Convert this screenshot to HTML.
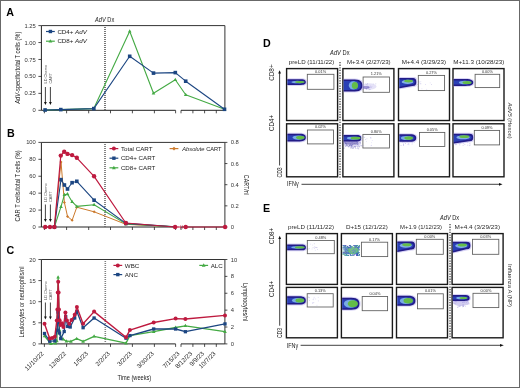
<!DOCTYPE html>
<html><head><meta charset="utf-8"><style>
html,body{margin:0;padding:0;background:#fff;}
body{width:520px;height:388px;overflow:hidden;}
svg{display:block;font-family:"Liberation Sans", sans-serif;opacity:0.999;}
</style></head><body>
<svg width="520" height="388" viewBox="0 0 520 388">
<defs><filter id="soft" x="-20%" y="-40%" width="140%" height="180%"><feGaussianBlur stdDeviation="0.35"/></filter></defs>
<rect x="0" y="0" width="520" height="388" fill="#fff"/>
<text x="6.3" y="15.8" font-size="10.7" text-anchor="start" fill="#000" font-weight="bold" >A</text>
<line x1="41.4" y1="25.6" x2="41.4" y2="110.3" stroke="#222" stroke-width="1" />
<line x1="41.4" y1="25.6" x2="224.9" y2="25.6" stroke="#333" stroke-width="1" />
<line x1="224.9" y1="25.6" x2="224.9" y2="110.3" stroke="#333" stroke-width="1" />
<line x1="41.4" y1="110.3" x2="175.6" y2="110.3" stroke="#222" stroke-width="1" />
<line x1="181.0" y1="110.3" x2="224.9" y2="110.3" stroke="#222" stroke-width="1" />
<line x1="44.4" y1="110.3" x2="44.4" y2="113.3" stroke="#222" stroke-width="0.8" />
<line x1="66.6" y1="110.3" x2="66.6" y2="113.3" stroke="#222" stroke-width="0.8" />
<line x1="88.7" y1="110.3" x2="88.7" y2="113.3" stroke="#222" stroke-width="0.8" />
<line x1="110.5" y1="110.3" x2="110.5" y2="113.3" stroke="#222" stroke-width="0.8" />
<line x1="132.4" y1="110.3" x2="132.4" y2="113.3" stroke="#222" stroke-width="0.8" />
<line x1="154.4" y1="110.3" x2="154.4" y2="113.3" stroke="#222" stroke-width="0.8" />
<line x1="175.6" y1="110.3" x2="175.6" y2="113.3" stroke="#222" stroke-width="0.8" />
<line x1="181.0" y1="110.3" x2="181.0" y2="113.3" stroke="#222" stroke-width="0.8" />
<line x1="192.9" y1="110.3" x2="192.9" y2="113.3" stroke="#222" stroke-width="0.8" />
<line x1="204.6" y1="110.3" x2="204.6" y2="113.3" stroke="#222" stroke-width="0.8" />
<line x1="216.3" y1="110.3" x2="216.3" y2="113.3" stroke="#222" stroke-width="0.8" />
<line x1="38.4" y1="110.3" x2="41.4" y2="110.3" stroke="#222" stroke-width="0.8" />
<text x="35.8" y="112.35" font-size="5.8" text-anchor="end" fill="#333" font-weight="normal" >0</text>
<line x1="38.4" y1="93.36" x2="41.4" y2="93.36" stroke="#222" stroke-width="0.8" />
<text x="35.8" y="95.41" font-size="5.8" text-anchor="end" fill="#333" font-weight="normal" >0.25</text>
<line x1="38.4" y1="76.42" x2="41.4" y2="76.42" stroke="#222" stroke-width="0.8" />
<text x="35.8" y="78.47" font-size="5.8" text-anchor="end" fill="#333" font-weight="normal" >0.50</text>
<line x1="38.4" y1="59.480000000000004" x2="41.4" y2="59.480000000000004" stroke="#222" stroke-width="0.8" />
<text x="35.8" y="61.53" font-size="5.8" text-anchor="end" fill="#333" font-weight="normal" >0.75</text>
<line x1="38.4" y1="42.540000000000006" x2="41.4" y2="42.540000000000006" stroke="#222" stroke-width="0.8" />
<text x="35.8" y="44.59" font-size="5.8" text-anchor="end" fill="#333" font-weight="normal" >1.00</text>
<line x1="38.4" y1="25.60000000000001" x2="41.4" y2="25.60000000000001" stroke="#222" stroke-width="0.8" />
<text x="35.8" y="27.65000000000001" font-size="5.8" text-anchor="end" fill="#333" font-weight="normal" >1.25</text>
<text x="19.8" y="67.7" font-size="7.7" text-anchor="middle" fill="#1a1a1a" font-weight="normal" transform="rotate(-90 19.8 67.7)" textLength="72" lengthAdjust="spacingAndGlyphs" ><tspan font-style="italic">AdV</tspan>-specific/total T cells (%)</text>
<path d="M104.2,27.00h1.6v1.0h-1.6zM104.2,29.00h1.6v1.0h-1.6zM104.2,31.00h1.6v1.0h-1.6zM104.2,33.00h1.6v1.0h-1.6zM104.2,35.00h1.6v1.0h-1.6zM104.2,37.00h1.6v1.0h-1.6zM104.2,39.00h1.6v1.0h-1.6zM104.2,41.00h1.6v1.0h-1.6zM104.2,43.00h1.6v1.0h-1.6zM104.2,45.00h1.6v1.0h-1.6zM104.2,47.00h1.6v1.0h-1.6zM104.2,49.00h1.6v1.0h-1.6zM104.2,51.00h1.6v1.0h-1.6zM104.2,53.00h1.6v1.0h-1.6zM104.2,55.00h1.6v1.0h-1.6zM104.2,57.00h1.6v1.0h-1.6zM104.2,59.00h1.6v1.0h-1.6zM104.2,61.00h1.6v1.0h-1.6zM104.2,63.00h1.6v1.0h-1.6zM104.2,65.00h1.6v1.0h-1.6zM104.2,67.00h1.6v1.0h-1.6zM104.2,69.00h1.6v1.0h-1.6zM104.2,71.00h1.6v1.0h-1.6zM104.2,73.00h1.6v1.0h-1.6zM104.2,75.00h1.6v1.0h-1.6zM104.2,77.00h1.6v1.0h-1.6zM104.2,79.00h1.6v1.0h-1.6zM104.2,81.00h1.6v1.0h-1.6zM104.2,83.00h1.6v1.0h-1.6zM104.2,85.00h1.6v1.0h-1.6zM104.2,87.00h1.6v1.0h-1.6zM104.2,89.00h1.6v1.0h-1.6zM104.2,91.00h1.6v1.0h-1.6zM104.2,93.00h1.6v1.0h-1.6zM104.2,95.00h1.6v1.0h-1.6zM104.2,97.00h1.6v1.0h-1.6zM104.2,99.00h1.6v1.0h-1.6zM104.2,101.00h1.6v1.0h-1.6zM104.2,103.00h1.6v1.0h-1.6zM104.2,105.00h1.6v1.0h-1.6zM104.2,107.00h1.6v1.0h-1.6zM104.2,109.00h1.6v1.0h-1.6z" fill="#555"/>
<text x="104.7" y="22" font-size="6.3" text-anchor="middle" fill="#222" font-weight="normal" textLength="19.2" lengthAdjust="spacingAndGlyphs" ><tspan font-style="italic">AdV</tspan> Dx</text>
<line x1="45.4" y1="87" x2="45.4" y2="102.5" stroke="#111" stroke-width="0.8" />
<polygon points="44.0,102 46.8,102 45.4,105" fill="#111"/>
<line x1="50.4" y1="87" x2="50.4" y2="102.5" stroke="#111" stroke-width="0.8" />
<polygon points="49.0,102 51.8,102 50.4,105" fill="#111"/>
<text x="47.0" y="83.5" font-size="3.9" text-anchor="start" fill="#555" font-weight="normal" transform="rotate(-90 47.0 83.5)" >LD Chemo</text>
<text x="52.0" y="83.5" font-size="3.9" text-anchor="start" fill="#555" font-weight="normal" transform="rotate(-90 52.0 83.5)" >CART</text>
<line x1="46.0" y1="31.5" x2="54.8" y2="31.5" stroke="#1c4682" stroke-width="1.2" />
<rect x="48.699999999999996" y="29.8" width="3.4" height="3.4" fill="#1c4682"/>
<text x="57.4" y="33.7" font-size="6.2" text-anchor="start" fill="#222" font-weight="normal" >CD4+ <tspan font-style="italic">AdV</tspan></text>
<line x1="46.0" y1="41.2" x2="54.8" y2="41.2" stroke="#44aa44" stroke-width="1.2" />
<polygon points="50.4,39.148 48.5,42.568000000000005 52.3,42.568000000000005" fill="#44aa44"/>
<text x="57.4" y="43.400000000000006" font-size="6.2" text-anchor="start" fill="#222" font-weight="normal" >CD8+ <tspan font-style="italic">AdV</tspan></text>
<polyline points="45.1,110 60.8,109.6 93.8,108.6 129.7,31.3 153.5,93.3 175.3,79.8 185.7,94.8 224.5,109.3" fill="none" stroke="#44aa44" stroke-width="1.1" stroke-linejoin="round"/>
<polygon points="45.1,108.056 43.300000000000004,111.296 46.9,111.296" fill="#44aa44"/>
<polygon points="60.8,107.65599999999999 59.0,110.896 62.599999999999994,110.896" fill="#44aa44"/>
<polygon points="93.8,106.65599999999999 92.0,109.896 95.6,109.896" fill="#44aa44"/>
<polygon points="129.7,29.356 127.89999999999999,32.596000000000004 131.5,32.596000000000004" fill="#44aa44"/>
<polygon points="153.5,91.356 151.7,94.596 155.3,94.596" fill="#44aa44"/>
<polygon points="175.3,77.856 173.5,81.096 177.10000000000002,81.096" fill="#44aa44"/>
<polygon points="185.7,92.856 183.89999999999998,96.096 187.5,96.096" fill="#44aa44"/>
<polygon points="224.5,107.356 222.7,110.596 226.3,110.596" fill="#44aa44"/>
<polyline points="45.1,110 60.8,109.6 93.8,108.6 129.7,56.3 153.5,73.1 175.3,72.6 185.7,81.2 224.5,109.3" fill="none" stroke="#1c4682" stroke-width="1.1" stroke-linejoin="round"/>
<rect x="43.300000000000004" y="108.2" width="3.6" height="3.6" fill="#1c4682"/>
<rect x="59.0" y="107.8" width="3.6" height="3.6" fill="#1c4682"/>
<rect x="92.0" y="106.8" width="3.6" height="3.6" fill="#1c4682"/>
<rect x="127.89999999999999" y="54.5" width="3.6" height="3.6" fill="#1c4682"/>
<rect x="151.7" y="71.3" width="3.6" height="3.6" fill="#1c4682"/>
<rect x="173.5" y="70.8" width="3.6" height="3.6" fill="#1c4682"/>
<rect x="183.89999999999998" y="79.4" width="3.6" height="3.6" fill="#1c4682"/>
<rect x="222.7" y="107.5" width="3.6" height="3.6" fill="#1c4682"/>
<text x="6.9" y="137.3" font-size="10.7" text-anchor="start" fill="#000" font-weight="bold" >B</text>
<line x1="41.4" y1="142.4" x2="41.4" y2="227.0" stroke="#222" stroke-width="1" />
<line x1="41.4" y1="142.4" x2="224.9" y2="142.4" stroke="#333" stroke-width="1" />
<line x1="224.9" y1="142.4" x2="224.9" y2="227.0" stroke="#333" stroke-width="1" />
<line x1="41.4" y1="227.0" x2="175.6" y2="227.0" stroke="#222" stroke-width="1" />
<line x1="181.0" y1="227.0" x2="224.9" y2="227.0" stroke="#222" stroke-width="1" />
<line x1="44.4" y1="227.0" x2="44.4" y2="230.0" stroke="#222" stroke-width="0.8" />
<line x1="66.6" y1="227.0" x2="66.6" y2="230.0" stroke="#222" stroke-width="0.8" />
<line x1="88.7" y1="227.0" x2="88.7" y2="230.0" stroke="#222" stroke-width="0.8" />
<line x1="110.5" y1="227.0" x2="110.5" y2="230.0" stroke="#222" stroke-width="0.8" />
<line x1="132.4" y1="227.0" x2="132.4" y2="230.0" stroke="#222" stroke-width="0.8" />
<line x1="154.4" y1="227.0" x2="154.4" y2="230.0" stroke="#222" stroke-width="0.8" />
<line x1="175.6" y1="227.0" x2="175.6" y2="230.0" stroke="#222" stroke-width="0.8" />
<line x1="181.0" y1="227.0" x2="181.0" y2="230.0" stroke="#222" stroke-width="0.8" />
<line x1="192.9" y1="227.0" x2="192.9" y2="230.0" stroke="#222" stroke-width="0.8" />
<line x1="204.6" y1="227.0" x2="204.6" y2="230.0" stroke="#222" stroke-width="0.8" />
<line x1="216.3" y1="227.0" x2="216.3" y2="230.0" stroke="#222" stroke-width="0.8" />
<line x1="38.4" y1="227.0" x2="41.4" y2="227.0" stroke="#222" stroke-width="0.8" />
<text x="35.8" y="229.05" font-size="5.8" text-anchor="end" fill="#333" font-weight="normal" >0</text>
<line x1="38.4" y1="210.08" x2="41.4" y2="210.08" stroke="#222" stroke-width="0.8" />
<text x="35.8" y="212.13000000000002" font-size="5.8" text-anchor="end" fill="#333" font-weight="normal" >20</text>
<line x1="38.4" y1="193.16" x2="41.4" y2="193.16" stroke="#222" stroke-width="0.8" />
<text x="35.8" y="195.21" font-size="5.8" text-anchor="end" fill="#333" font-weight="normal" >40</text>
<line x1="38.4" y1="176.24" x2="41.4" y2="176.24" stroke="#222" stroke-width="0.8" />
<text x="35.8" y="178.29000000000002" font-size="5.8" text-anchor="end" fill="#333" font-weight="normal" >60</text>
<line x1="38.4" y1="159.32" x2="41.4" y2="159.32" stroke="#222" stroke-width="0.8" />
<text x="35.8" y="161.37" font-size="5.8" text-anchor="end" fill="#333" font-weight="normal" >80</text>
<line x1="38.4" y1="142.4" x2="41.4" y2="142.4" stroke="#222" stroke-width="0.8" />
<text x="35.8" y="144.45000000000002" font-size="5.8" text-anchor="end" fill="#333" font-weight="normal" >100</text>
<line x1="224.9" y1="227.0" x2="227.4" y2="227.0" stroke="#222" stroke-width="0.8" />
<text x="230.70000000000002" y="229.05" font-size="5.8" text-anchor="start" fill="#333" font-weight="normal" >0</text>
<line x1="224.9" y1="205.85" x2="227.4" y2="205.85" stroke="#222" stroke-width="0.8" />
<text x="230.70000000000002" y="207.9" font-size="5.8" text-anchor="start" fill="#333" font-weight="normal" >0.2</text>
<line x1="224.9" y1="184.7" x2="227.4" y2="184.7" stroke="#222" stroke-width="0.8" />
<text x="230.70000000000002" y="186.75" font-size="5.8" text-anchor="start" fill="#333" font-weight="normal" >0.4</text>
<line x1="224.9" y1="163.55" x2="227.4" y2="163.55" stroke="#222" stroke-width="0.8" />
<text x="230.70000000000002" y="165.60000000000002" font-size="5.8" text-anchor="start" fill="#333" font-weight="normal" >0.6</text>
<line x1="224.9" y1="142.4" x2="227.4" y2="142.4" stroke="#222" stroke-width="0.8" />
<text x="230.70000000000002" y="144.45000000000002" font-size="5.8" text-anchor="start" fill="#333" font-weight="normal" >0.8</text>
<text x="20.3" y="185.9" font-size="7.6" text-anchor="middle" fill="#1a1a1a" font-weight="normal" transform="rotate(-90 20.3 185.9)" textLength="71" lengthAdjust="spacingAndGlyphs" >CAR T cells/total T cells (%)</text>
<text x="243.6" y="184.8" font-size="7.2" text-anchor="middle" fill="#1a1a1a" font-weight="normal" transform="rotate(90 243.6 184.8)" textLength="20" lengthAdjust="spacingAndGlyphs" >CART/nl</text>
<path d="M104.2,144.00h1.6v1.0h-1.6zM104.2,146.00h1.6v1.0h-1.6zM104.2,148.00h1.6v1.0h-1.6zM104.2,150.00h1.6v1.0h-1.6zM104.2,152.00h1.6v1.0h-1.6zM104.2,154.00h1.6v1.0h-1.6zM104.2,156.00h1.6v1.0h-1.6zM104.2,158.00h1.6v1.0h-1.6zM104.2,160.00h1.6v1.0h-1.6zM104.2,162.00h1.6v1.0h-1.6zM104.2,164.00h1.6v1.0h-1.6zM104.2,166.00h1.6v1.0h-1.6zM104.2,168.00h1.6v1.0h-1.6zM104.2,170.00h1.6v1.0h-1.6zM104.2,172.00h1.6v1.0h-1.6zM104.2,174.00h1.6v1.0h-1.6zM104.2,176.00h1.6v1.0h-1.6zM104.2,178.00h1.6v1.0h-1.6zM104.2,180.00h1.6v1.0h-1.6zM104.2,182.00h1.6v1.0h-1.6zM104.2,184.00h1.6v1.0h-1.6zM104.2,186.00h1.6v1.0h-1.6zM104.2,188.00h1.6v1.0h-1.6zM104.2,190.00h1.6v1.0h-1.6zM104.2,192.00h1.6v1.0h-1.6zM104.2,194.00h1.6v1.0h-1.6zM104.2,196.00h1.6v1.0h-1.6zM104.2,198.00h1.6v1.0h-1.6zM104.2,200.00h1.6v1.0h-1.6zM104.2,202.00h1.6v1.0h-1.6zM104.2,204.00h1.6v1.0h-1.6zM104.2,206.00h1.6v1.0h-1.6zM104.2,208.00h1.6v1.0h-1.6zM104.2,210.00h1.6v1.0h-1.6zM104.2,212.00h1.6v1.0h-1.6zM104.2,214.00h1.6v1.0h-1.6zM104.2,216.00h1.6v1.0h-1.6zM104.2,218.00h1.6v1.0h-1.6zM104.2,220.00h1.6v1.0h-1.6zM104.2,222.00h1.6v1.0h-1.6zM104.2,224.00h1.6v1.0h-1.6zM104.2,226.00h1.6v1.0h-1.6z" fill="#666"/>
<line x1="45.4" y1="204.5" x2="45.4" y2="219.5" stroke="#111" stroke-width="0.8" />
<polygon points="44.0,219 46.8,219 45.4,222" fill="#111"/>
<line x1="50.4" y1="204.5" x2="50.4" y2="219.5" stroke="#111" stroke-width="0.8" />
<polygon points="49.0,219 51.8,219 50.4,222" fill="#111"/>
<text x="47.0" y="202" font-size="3.9" text-anchor="start" fill="#555" font-weight="normal" transform="rotate(-90 47.0 202)" >LD Chemo</text>
<text x="52.0" y="202" font-size="3.9" text-anchor="start" fill="#555" font-weight="normal" transform="rotate(-90 52.0 202)" >CART</text>
<line x1="109.5" y1="148.6" x2="118.30000000000001" y2="148.6" stroke="#be1a3f" stroke-width="1.2" />
<circle cx="113.9" cy="148.6" r="2.0" fill="#be1a3f"/>
<text x="120.9" y="150.79999999999998" font-size="6.2" text-anchor="start" fill="#222" font-weight="normal" >Total CART</text>
<line x1="109.5" y1="158.2" x2="118.30000000000001" y2="158.2" stroke="#1c4682" stroke-width="1.2" />
<rect x="112.2" y="156.5" width="3.4" height="3.4" fill="#1c4682"/>
<text x="120.9" y="160.39999999999998" font-size="6.2" text-anchor="start" fill="#222" font-weight="normal" >CD4+ CART</text>
<line x1="109.5" y1="167.8" x2="118.30000000000001" y2="167.8" stroke="#44aa44" stroke-width="1.2" />
<polygon points="113.9,165.74800000000002 112.0,169.168 115.80000000000001,169.168" fill="#44aa44"/>
<text x="120.9" y="170.0" font-size="6.2" text-anchor="start" fill="#222" font-weight="normal" >CD8+ CART</text>
<line x1="169.6" y1="148.6" x2="178.4" y2="148.6" stroke="#cc7a2c" stroke-width="1.2" />
<polygon points="174.0,146.7 175.9,148.6 174.0,150.5 172.1,148.6" fill="#cc7a2c"/>
<text x="182.3" y="150.79999999999998" font-size="6.2" text-anchor="start" fill="#222" font-weight="normal" textLength="39.3" lengthAdjust="spacingAndGlyphs" ><tspan font-style="italic">Absolute</tspan> CART</text>
<polyline points="54.4,227 61.0,162 64.4,202.5 67.5,216.4 72.1,220.3 76.8,207.2 94.1,211.8 125.9,224.3 175.1,226.8" fill="none" stroke="#cc7a2c" stroke-width="1.0" stroke-linejoin="round"/>
<polygon points="54.4,225.5 55.9,227 54.4,228.5 52.9,227" fill="#cc7a2c"/>
<polygon points="61.0,160.5 62.5,162 61.0,163.5 59.5,162" fill="#cc7a2c"/>
<polygon points="64.4,201.0 65.9,202.5 64.4,204.0 62.900000000000006,202.5" fill="#cc7a2c"/>
<polygon points="67.5,214.9 69.0,216.4 67.5,217.9 66.0,216.4" fill="#cc7a2c"/>
<polygon points="72.1,218.8 73.6,220.3 72.1,221.8 70.6,220.3" fill="#cc7a2c"/>
<polygon points="76.8,205.7 78.3,207.2 76.8,208.7 75.3,207.2" fill="#cc7a2c"/>
<polygon points="94.1,210.3 95.6,211.8 94.1,213.3 92.6,211.8" fill="#cc7a2c"/>
<polygon points="125.9,222.8 127.4,224.3 125.9,225.8 124.4,224.3" fill="#cc7a2c"/>
<polygon points="175.1,225.3 176.6,226.8 175.1,228.3 173.6,226.8" fill="#cc7a2c"/>
<polyline points="54.4,227 61.0,206.7 64.4,194.8 67.5,194.0 72.1,201.7 76.8,206.4 94.1,204.8 125.9,223.9" fill="none" stroke="#44aa44" stroke-width="1.1" stroke-linejoin="round"/>
<polygon points="54.4,225.056 52.6,228.296 56.199999999999996,228.296" fill="#44aa44"/>
<polygon points="61.0,204.756 59.2,207.99599999999998 62.8,207.99599999999998" fill="#44aa44"/>
<polygon points="64.4,192.85600000000002 62.60000000000001,196.096 66.2,196.096" fill="#44aa44"/>
<polygon points="67.5,192.056 65.7,195.296 69.3,195.296" fill="#44aa44"/>
<polygon points="72.1,199.756 70.3,202.99599999999998 73.89999999999999,202.99599999999998" fill="#44aa44"/>
<polygon points="76.8,204.45600000000002 75.0,207.696 78.6,207.696" fill="#44aa44"/>
<polygon points="94.1,202.85600000000002 92.3,206.096 95.89999999999999,206.096" fill="#44aa44"/>
<polygon points="125.9,221.95600000000002 124.10000000000001,225.196 127.7,225.196" fill="#44aa44"/>
<polyline points="125.9,223.9 175.1,226.8" fill="none" stroke="#44aa44" stroke-width="1.1" stroke-linejoin="round"/>
<polyline points="54.4,227 61.0,179.6 64.4,185.0 67.5,189.0 72.1,182.7 76.8,181.3 94.1,200.2 125.9,223.4" fill="none" stroke="#1c4682" stroke-width="1.1" stroke-linejoin="round"/>
<rect x="52.6" y="225.2" width="3.6" height="3.6" fill="#1c4682"/>
<rect x="59.2" y="177.79999999999998" width="3.6" height="3.6" fill="#1c4682"/>
<rect x="62.60000000000001" y="183.2" width="3.6" height="3.6" fill="#1c4682"/>
<rect x="65.7" y="187.2" width="3.6" height="3.6" fill="#1c4682"/>
<rect x="70.3" y="180.89999999999998" width="3.6" height="3.6" fill="#1c4682"/>
<rect x="75.0" y="179.5" width="3.6" height="3.6" fill="#1c4682"/>
<rect x="92.3" y="198.39999999999998" width="3.6" height="3.6" fill="#1c4682"/>
<rect x="124.10000000000001" y="221.6" width="3.6" height="3.6" fill="#1c4682"/>
<polyline points="125.9,223.4 175.1,226.8" fill="none" stroke="#1c4682" stroke-width="1.1" stroke-linejoin="round"/>
<polyline points="45.2,227 50.0,227 54.4,227 60.8,155.6 64.2,151.7 67.5,153.9 72.1,155.1 76.8,157.8 94.1,176.3 125.8,223.0 175.1,227" fill="none" stroke="#be1a3f" stroke-width="1.2" stroke-linejoin="round"/>
<circle cx="45.2" cy="227" r="2.2" fill="#be1a3f"/>
<circle cx="50.0" cy="227" r="2.2" fill="#be1a3f"/>
<circle cx="54.4" cy="227" r="2.2" fill="#be1a3f"/>
<circle cx="60.8" cy="155.6" r="2.2" fill="#be1a3f"/>
<circle cx="64.2" cy="151.7" r="2.2" fill="#be1a3f"/>
<circle cx="67.5" cy="153.9" r="2.2" fill="#be1a3f"/>
<circle cx="72.1" cy="155.1" r="2.2" fill="#be1a3f"/>
<circle cx="76.8" cy="157.8" r="2.2" fill="#be1a3f"/>
<circle cx="94.1" cy="176.3" r="2.2" fill="#be1a3f"/>
<circle cx="125.8" cy="223.0" r="2.2" fill="#be1a3f"/>
<circle cx="175.1" cy="227" r="2.2" fill="#be1a3f"/>
<polyline points="175.1,227 179.8,227" fill="none" stroke="#be1a3f" stroke-width="1.2" stroke-linejoin="round"/>
<polyline points="183.2,227 225.1,227" fill="none" stroke="#be1a3f" stroke-width="1.2" stroke-linejoin="round"/>
<line x1="180.6" y1="225.5" x2="180.6" y2="228.5" stroke="#be1a3f" stroke-width="0.8" />
<line x1="182.4" y1="225.5" x2="182.4" y2="228.5" stroke="#be1a3f" stroke-width="0.8" />
<circle cx="185.7" cy="227" r="2.2" fill="#be1a3f"/>
<circle cx="225.1" cy="227" r="2.2" fill="#be1a3f"/>
<text x="6.6" y="254.4" font-size="10.7" text-anchor="start" fill="#000" font-weight="bold" >C</text>
<line x1="41.4" y1="259.5" x2="41.4" y2="343.9" stroke="#222" stroke-width="1" />
<line x1="41.4" y1="259.5" x2="224.9" y2="259.5" stroke="#333" stroke-width="1" />
<line x1="224.9" y1="259.5" x2="224.9" y2="343.9" stroke="#333" stroke-width="1" />
<line x1="41.4" y1="343.9" x2="175.6" y2="343.9" stroke="#222" stroke-width="1" />
<line x1="181.0" y1="343.9" x2="224.9" y2="343.9" stroke="#222" stroke-width="1" />
<line x1="44.4" y1="343.9" x2="44.4" y2="346.9" stroke="#222" stroke-width="0.8" />
<line x1="66.6" y1="343.9" x2="66.6" y2="346.9" stroke="#222" stroke-width="0.8" />
<line x1="88.7" y1="343.9" x2="88.7" y2="346.9" stroke="#222" stroke-width="0.8" />
<line x1="110.5" y1="343.9" x2="110.5" y2="346.9" stroke="#222" stroke-width="0.8" />
<line x1="132.4" y1="343.9" x2="132.4" y2="346.9" stroke="#222" stroke-width="0.8" />
<line x1="154.4" y1="343.9" x2="154.4" y2="346.9" stroke="#222" stroke-width="0.8" />
<line x1="175.6" y1="343.9" x2="175.6" y2="346.9" stroke="#222" stroke-width="0.8" />
<line x1="181.0" y1="343.9" x2="181.0" y2="346.9" stroke="#222" stroke-width="0.8" />
<line x1="192.9" y1="343.9" x2="192.9" y2="346.9" stroke="#222" stroke-width="0.8" />
<line x1="204.6" y1="343.9" x2="204.6" y2="346.9" stroke="#222" stroke-width="0.8" />
<line x1="216.3" y1="343.9" x2="216.3" y2="346.9" stroke="#222" stroke-width="0.8" />
<line x1="38.4" y1="343.9" x2="41.4" y2="343.9" stroke="#222" stroke-width="0.8" />
<text x="35.8" y="345.95" font-size="5.8" text-anchor="end" fill="#333" font-weight="normal" >0</text>
<line x1="38.4" y1="322.79999999999995" x2="41.4" y2="322.79999999999995" stroke="#222" stroke-width="0.8" />
<text x="35.8" y="324.84999999999997" font-size="5.8" text-anchor="end" fill="#333" font-weight="normal" >5</text>
<line x1="38.4" y1="301.7" x2="41.4" y2="301.7" stroke="#222" stroke-width="0.8" />
<text x="35.8" y="303.75" font-size="5.8" text-anchor="end" fill="#333" font-weight="normal" >10</text>
<line x1="38.4" y1="280.6" x2="41.4" y2="280.6" stroke="#222" stroke-width="0.8" />
<text x="35.8" y="282.65000000000003" font-size="5.8" text-anchor="end" fill="#333" font-weight="normal" >15</text>
<line x1="38.4" y1="259.5" x2="41.4" y2="259.5" stroke="#222" stroke-width="0.8" />
<text x="35.8" y="261.55" font-size="5.8" text-anchor="end" fill="#333" font-weight="normal" >20</text>
<line x1="224.9" y1="343.9" x2="227.4" y2="343.9" stroke="#222" stroke-width="0.8" />
<text x="230.70000000000002" y="345.95" font-size="5.8" text-anchor="start" fill="#333" font-weight="normal" >0</text>
<line x1="224.9" y1="327.02" x2="227.4" y2="327.02" stroke="#222" stroke-width="0.8" />
<text x="230.70000000000002" y="329.07" font-size="5.8" text-anchor="start" fill="#333" font-weight="normal" >2</text>
<line x1="224.9" y1="310.14" x2="227.4" y2="310.14" stroke="#222" stroke-width="0.8" />
<text x="230.70000000000002" y="312.19" font-size="5.8" text-anchor="start" fill="#333" font-weight="normal" >4</text>
<line x1="224.9" y1="293.26" x2="227.4" y2="293.26" stroke="#222" stroke-width="0.8" />
<text x="230.70000000000002" y="295.31" font-size="5.8" text-anchor="start" fill="#333" font-weight="normal" >6</text>
<line x1="224.9" y1="276.38" x2="227.4" y2="276.38" stroke="#222" stroke-width="0.8" />
<text x="230.70000000000002" y="278.43" font-size="5.8" text-anchor="start" fill="#333" font-weight="normal" >8</text>
<line x1="224.9" y1="259.5" x2="227.4" y2="259.5" stroke="#222" stroke-width="0.8" />
<text x="230.70000000000002" y="261.55" font-size="5.8" text-anchor="start" fill="#333" font-weight="normal" >10</text>
<text x="24.3" y="302" font-size="7.6" text-anchor="middle" fill="#1a1a1a" font-weight="normal" transform="rotate(-90 24.3 302)" textLength="71" lengthAdjust="spacingAndGlyphs" >Leukocytes or neutrophils/nl</text>
<text x="242.8" y="302.0" font-size="7.2" text-anchor="middle" fill="#1a1a1a" font-weight="normal" transform="rotate(90 242.8 302.0)" textLength="38" lengthAdjust="spacingAndGlyphs" >Lymphocytes/nl</text>
<path d="M104.5,261.00h1.6v1.0h-1.6zM104.5,263.00h1.6v1.0h-1.6zM104.5,265.00h1.6v1.0h-1.6zM104.5,267.00h1.6v1.0h-1.6zM104.5,269.00h1.6v1.0h-1.6zM104.5,271.00h1.6v1.0h-1.6zM104.5,273.00h1.6v1.0h-1.6zM104.5,275.00h1.6v1.0h-1.6zM104.5,277.00h1.6v1.0h-1.6zM104.5,279.00h1.6v1.0h-1.6zM104.5,281.00h1.6v1.0h-1.6zM104.5,283.00h1.6v1.0h-1.6zM104.5,285.00h1.6v1.0h-1.6zM104.5,287.00h1.6v1.0h-1.6zM104.5,289.00h1.6v1.0h-1.6zM104.5,291.00h1.6v1.0h-1.6zM104.5,293.00h1.6v1.0h-1.6zM104.5,295.00h1.6v1.0h-1.6zM104.5,297.00h1.6v1.0h-1.6zM104.5,299.00h1.6v1.0h-1.6zM104.5,301.00h1.6v1.0h-1.6zM104.5,303.00h1.6v1.0h-1.6zM104.5,305.00h1.6v1.0h-1.6zM104.5,307.00h1.6v1.0h-1.6zM104.5,309.00h1.6v1.0h-1.6zM104.5,311.00h1.6v1.0h-1.6zM104.5,313.00h1.6v1.0h-1.6zM104.5,315.00h1.6v1.0h-1.6zM104.5,317.00h1.6v1.0h-1.6zM104.5,319.00h1.6v1.0h-1.6zM104.5,321.00h1.6v1.0h-1.6zM104.5,323.00h1.6v1.0h-1.6zM104.5,325.00h1.6v1.0h-1.6zM104.5,327.00h1.6v1.0h-1.6zM104.5,329.00h1.6v1.0h-1.6zM104.5,331.00h1.6v1.0h-1.6zM104.5,333.00h1.6v1.0h-1.6zM104.5,335.00h1.6v1.0h-1.6zM104.5,337.00h1.6v1.0h-1.6zM104.5,339.00h1.6v1.0h-1.6zM104.5,341.00h1.6v1.0h-1.6zM104.5,343.00h1.6v1.0h-1.6z" fill="#808080"/>
<line x1="45.4" y1="302.5" x2="45.4" y2="317.0" stroke="#111" stroke-width="0.8" />
<polygon points="44.0,316.5 46.8,316.5 45.4,319.5" fill="#111"/>
<line x1="50.4" y1="302.5" x2="50.4" y2="317.0" stroke="#111" stroke-width="0.8" />
<polygon points="49.0,316.5 51.8,316.5 50.4,319.5" fill="#111"/>
<text x="47.0" y="300" font-size="3.9" text-anchor="start" fill="#555" font-weight="normal" transform="rotate(-90 47.0 300)" >LD Chemo</text>
<text x="52.0" y="300" font-size="3.9" text-anchor="start" fill="#555" font-weight="normal" transform="rotate(-90 52.0 300)" >CART</text>
<line x1="113.39999999999999" y1="265.4" x2="122.2" y2="265.4" stroke="#be1a3f" stroke-width="1.2" />
<circle cx="117.8" cy="265.4" r="2.0" fill="#be1a3f"/>
<text x="124.8" y="267.59999999999997" font-size="6.2" text-anchor="start" fill="#222" font-weight="normal" >WBC</text>
<line x1="113.39999999999999" y1="274.6" x2="122.2" y2="274.6" stroke="#1c4682" stroke-width="1.2" />
<rect x="116.1" y="272.90000000000003" width="3.4" height="3.4" fill="#1c4682"/>
<text x="124.8" y="276.8" font-size="6.2" text-anchor="start" fill="#222" font-weight="normal" >ANC</text>
<line x1="199.29999999999998" y1="265.4" x2="208.1" y2="265.4" stroke="#44aa44" stroke-width="1.2" />
<polygon points="203.7,263.34799999999996 201.79999999999998,266.768 205.6,266.768" fill="#44aa44"/>
<text x="210.7" y="267.59999999999997" font-size="6.2" text-anchor="start" fill="#222" font-weight="normal" >ALC</text>
<text x="44.199999999999996" y="354.0" font-size="6.3" text-anchor="end" fill="#222" font-weight="normal" transform="rotate(-45 44.199999999999996 354.0)" >11/10/22</text>
<text x="66.39999999999999" y="354.0" font-size="6.3" text-anchor="end" fill="#222" font-weight="normal" transform="rotate(-45 66.39999999999999 354.0)" >12/8/22</text>
<text x="88.5" y="354.0" font-size="6.3" text-anchor="end" fill="#222" font-weight="normal" transform="rotate(-45 88.5 354.0)" >1/5/23</text>
<text x="110.3" y="354.0" font-size="6.3" text-anchor="end" fill="#222" font-weight="normal" transform="rotate(-45 110.3 354.0)" >2/2/23</text>
<text x="132.20000000000002" y="354.0" font-size="6.3" text-anchor="end" fill="#222" font-weight="normal" transform="rotate(-45 132.20000000000002 354.0)" >3/2/23</text>
<text x="154.20000000000002" y="354.0" font-size="6.3" text-anchor="end" fill="#222" font-weight="normal" transform="rotate(-45 154.20000000000002 354.0)" >3/30/23</text>
<text x="180.0" y="354.0" font-size="6.3" text-anchor="end" fill="#222" font-weight="normal" transform="rotate(-45 180.0 354.0)" >7/15/23</text>
<text x="192.70000000000002" y="354.0" font-size="6.3" text-anchor="end" fill="#222" font-weight="normal" transform="rotate(-45 192.70000000000002 354.0)" >8/12/23</text>
<text x="204.4" y="354.0" font-size="6.3" text-anchor="end" fill="#222" font-weight="normal" transform="rotate(-45 204.4 354.0)" >9/9/23</text>
<text x="216.10000000000002" y="354.0" font-size="6.3" text-anchor="end" fill="#222" font-weight="normal" transform="rotate(-45 216.10000000000002 354.0)" >10/7/23</text>
<text x="134.4" y="379.6" font-size="8.0" text-anchor="middle" fill="#1a1a1a" font-weight="normal" textLength="33.7" lengthAdjust="spacingAndGlyphs" >Time (weeks)</text>
<polyline points="44.5,336.0 50.9,343.8 55.4,343.1 56.9,341.0 58.1,277.2 59.4,330.0 61.0,337.5 63.2,339.3 66.4,341.2 70.9,341.4 76.7,338.6 83.1,341.4 94.1,336.3 126.0,343.1 129.9,335.6 153.7,331.7 175.6,327.5 185.4,325.8 225.0,331.7" fill="none" stroke="#44aa44" stroke-width="1.3" stroke-linejoin="round"/>
<polygon points="44.5,334.056 42.7,337.296 46.3,337.296" fill="#44aa44"/>
<polygon points="50.9,341.856 49.1,345.096 52.699999999999996,345.096" fill="#44aa44"/>
<polygon points="55.4,341.156 53.6,344.396 57.199999999999996,344.396" fill="#44aa44"/>
<polygon points="56.9,339.056 55.1,342.296 58.699999999999996,342.296" fill="#44aa44"/>
<polygon points="58.1,275.256 56.300000000000004,278.496 59.9,278.496" fill="#44aa44"/>
<polygon points="59.4,328.056 57.6,331.296 61.199999999999996,331.296" fill="#44aa44"/>
<polygon points="61.0,335.556 59.2,338.796 62.8,338.796" fill="#44aa44"/>
<polygon points="63.2,337.356 61.400000000000006,340.596 65.0,340.596" fill="#44aa44"/>
<polygon points="66.4,339.256 64.60000000000001,342.496 68.2,342.496" fill="#44aa44"/>
<polygon points="70.9,339.45599999999996 69.10000000000001,342.69599999999997 72.7,342.69599999999997" fill="#44aa44"/>
<polygon points="76.7,336.656 74.9,339.896 78.5,339.896" fill="#44aa44"/>
<polygon points="83.1,339.45599999999996 81.3,342.69599999999997 84.89999999999999,342.69599999999997" fill="#44aa44"/>
<polygon points="94.1,334.356 92.3,337.596 95.89999999999999,337.596" fill="#44aa44"/>
<polygon points="126.0,341.156 124.2,344.396 127.8,344.396" fill="#44aa44"/>
<polygon points="129.9,333.656 128.1,336.896 131.70000000000002,336.896" fill="#44aa44"/>
<polygon points="153.7,329.756 151.89999999999998,332.996 155.5,332.996" fill="#44aa44"/>
<polygon points="175.6,325.556 173.79999999999998,328.796 177.4,328.796" fill="#44aa44"/>
<polygon points="185.4,323.856 183.6,327.096 187.20000000000002,327.096" fill="#44aa44"/>
<polygon points="225.0,329.756 223.2,332.996 226.8,332.996" fill="#44aa44"/>
<polyline points="44.5,333.5 49.7,341.2 54.8,340.9 57.2,330.2 58.0,312.0 58.7,322.0 59.5,333.0 60.8,338.6 64.2,331.5 65.7,316.7 67.7,326.4 70.2,327.0 74.7,318.0 76.9,311.6 83.1,327.7 94.1,318.0 126.0,338.2 129.9,335.6 153.7,329.0 175.6,329.0 185.4,331.7 225.0,323.9" fill="none" stroke="#1c4682" stroke-width="1.3" stroke-linejoin="round"/>
<rect x="42.85" y="331.85" width="3.3" height="3.3" fill="#1c4682"/>
<rect x="48.050000000000004" y="339.55" width="3.3" height="3.3" fill="#1c4682"/>
<rect x="53.15" y="339.25" width="3.3" height="3.3" fill="#1c4682"/>
<rect x="55.550000000000004" y="328.55" width="3.3" height="3.3" fill="#1c4682"/>
<rect x="56.35" y="310.35" width="3.3" height="3.3" fill="#1c4682"/>
<rect x="57.050000000000004" y="320.35" width="3.3" height="3.3" fill="#1c4682"/>
<rect x="57.85" y="331.35" width="3.3" height="3.3" fill="#1c4682"/>
<rect x="59.15" y="336.95000000000005" width="3.3" height="3.3" fill="#1c4682"/>
<rect x="62.550000000000004" y="329.85" width="3.3" height="3.3" fill="#1c4682"/>
<rect x="64.05" y="315.05" width="3.3" height="3.3" fill="#1c4682"/>
<rect x="66.05" y="324.75" width="3.3" height="3.3" fill="#1c4682"/>
<rect x="68.55" y="325.35" width="3.3" height="3.3" fill="#1c4682"/>
<rect x="73.05" y="316.35" width="3.3" height="3.3" fill="#1c4682"/>
<rect x="75.25" y="309.95000000000005" width="3.3" height="3.3" fill="#1c4682"/>
<rect x="81.44999999999999" y="326.05" width="3.3" height="3.3" fill="#1c4682"/>
<rect x="92.44999999999999" y="316.35" width="3.3" height="3.3" fill="#1c4682"/>
<rect x="124.35" y="336.55" width="3.3" height="3.3" fill="#1c4682"/>
<rect x="128.25" y="333.95000000000005" width="3.3" height="3.3" fill="#1c4682"/>
<rect x="152.04999999999998" y="327.35" width="3.3" height="3.3" fill="#1c4682"/>
<rect x="173.95" y="327.35" width="3.3" height="3.3" fill="#1c4682"/>
<rect x="183.75" y="330.05" width="3.3" height="3.3" fill="#1c4682"/>
<rect x="223.35" y="322.25" width="3.3" height="3.3" fill="#1c4682"/>
<polyline points="44.5,323.8 49.7,338.6 52.2,338.0 54.8,336.7 56.8,320.6 57.4,309.5 57.8,292.4 58.2,281.8 58.6,292.4 59.0,309.6 59.6,320.3 60.6,325.1 61.9,323.2 63.4,327.0 65.4,312.5 67.0,320.6 69.3,323.8 71.5,320.0 74.7,314.8 76.9,307.1 83.1,323.8 94.1,311.6 126.0,337.3 129.9,330.1 153.7,322.5 175.6,318.6 185.4,319.0 225.0,315.4" fill="none" stroke="#be1a3f" stroke-width="1.4" stroke-linejoin="round"/>
<circle cx="44.5" cy="323.8" r="2.0" fill="#be1a3f"/>
<circle cx="49.7" cy="338.6" r="2.0" fill="#be1a3f"/>
<circle cx="52.2" cy="338.0" r="2.0" fill="#be1a3f"/>
<circle cx="54.8" cy="336.7" r="2.0" fill="#be1a3f"/>
<circle cx="56.8" cy="320.6" r="2.0" fill="#be1a3f"/>
<circle cx="57.4" cy="309.5" r="2.0" fill="#be1a3f"/>
<circle cx="57.8" cy="292.4" r="2.0" fill="#be1a3f"/>
<circle cx="58.2" cy="281.8" r="2.0" fill="#be1a3f"/>
<circle cx="58.6" cy="292.4" r="2.0" fill="#be1a3f"/>
<circle cx="59.0" cy="309.6" r="2.0" fill="#be1a3f"/>
<circle cx="59.6" cy="320.3" r="2.0" fill="#be1a3f"/>
<circle cx="60.6" cy="325.1" r="2.0" fill="#be1a3f"/>
<circle cx="61.9" cy="323.2" r="2.0" fill="#be1a3f"/>
<circle cx="63.4" cy="327.0" r="2.0" fill="#be1a3f"/>
<circle cx="65.4" cy="312.5" r="2.0" fill="#be1a3f"/>
<circle cx="67.0" cy="320.6" r="2.0" fill="#be1a3f"/>
<circle cx="69.3" cy="323.8" r="2.0" fill="#be1a3f"/>
<circle cx="71.5" cy="320.0" r="2.0" fill="#be1a3f"/>
<circle cx="74.7" cy="314.8" r="2.0" fill="#be1a3f"/>
<circle cx="76.9" cy="307.1" r="2.0" fill="#be1a3f"/>
<circle cx="83.1" cy="323.8" r="2.0" fill="#be1a3f"/>
<circle cx="94.1" cy="311.6" r="2.0" fill="#be1a3f"/>
<circle cx="126.0" cy="337.3" r="2.0" fill="#be1a3f"/>
<circle cx="129.9" cy="330.1" r="2.0" fill="#be1a3f"/>
<circle cx="153.7" cy="322.5" r="2.0" fill="#be1a3f"/>
<circle cx="175.6" cy="318.6" r="2.0" fill="#be1a3f"/>
<circle cx="185.4" cy="319.0" r="2.0" fill="#be1a3f"/>
<circle cx="225.0" cy="315.4" r="2.0" fill="#be1a3f"/>
<text x="263.0" y="47.0" font-size="10.7" text-anchor="start" fill="#000" font-weight="bold" >D</text>
<text x="311.6" y="63.7" font-size="5.9" text-anchor="middle" fill="#2a2a2a" font-weight="normal" textLength="45.5" lengthAdjust="spacingAndGlyphs" >preLD (11/11/22)</text>
<text x="368.8" y="63.7" font-size="5.9" text-anchor="middle" fill="#2a2a2a" font-weight="normal" textLength="43.7" lengthAdjust="spacingAndGlyphs" >M+3.4 (2/27/23)</text>
<text x="423.9" y="63.7" font-size="5.9" text-anchor="middle" fill="#2a2a2a" font-weight="normal" textLength="44.5" lengthAdjust="spacingAndGlyphs" >M+4.4 (3/29/23)</text>
<text x="478.8" y="63.7" font-size="5.9" text-anchor="middle" fill="#2a2a2a" font-weight="normal" textLength="51.2" lengthAdjust="spacingAndGlyphs" >M+11.3 (10/28/23)</text>
<rect x="286.6" y="68.6" width="51.0" height="51.9" fill="none" stroke="#1a1a1a" stroke-width="1.4"/>
<rect x="307.3" y="74.3" width="26.6" height="15" fill="none" stroke="#5c5c5c" stroke-width="0.85"/>
<text x="320.6" y="72.6" font-size="3.9" text-anchor="middle" fill="#333" font-weight="normal" >0.01%</text>
<rect x="342.9" y="68.6" width="51.0" height="51.9" fill="none" stroke="#1a1a1a" stroke-width="1.4"/>
<rect x="363.1" y="77.0" width="26.4" height="15.3" fill="none" stroke="#5c5c5c" stroke-width="0.85"/>
<text x="376.3" y="75.3" font-size="3.9" text-anchor="middle" fill="#333" font-weight="normal" >1.21%</text>
<rect x="398.5" y="68.6" width="51.0" height="51.9" fill="none" stroke="#1a1a1a" stroke-width="1.4"/>
<rect x="418.3" y="75.4" width="26.3" height="15.2" fill="none" stroke="#5c5c5c" stroke-width="0.85"/>
<text x="431.45" y="73.7" font-size="3.9" text-anchor="middle" fill="#333" font-weight="normal" >0.27%</text>
<rect x="453.0" y="68.6" width="51.0" height="51.9" fill="none" stroke="#1a1a1a" stroke-width="1.4"/>
<rect x="475.1" y="74.3" width="24.6" height="13.3" fill="none" stroke="#5c5c5c" stroke-width="0.85"/>
<text x="487.40000000000003" y="72.6" font-size="3.9" text-anchor="middle" fill="#333" font-weight="normal" >0.00%</text>
<rect x="286.6" y="123.8" width="51.0" height="53.0" fill="none" stroke="#1a1a1a" stroke-width="1.4"/>
<rect x="307.4" y="130" width="26.1" height="13.9" fill="none" stroke="#5c5c5c" stroke-width="0.85"/>
<text x="320.45" y="128.3" font-size="3.9" text-anchor="middle" fill="#333" font-weight="normal" >0.02%</text>
<rect x="342.9" y="123.8" width="51.0" height="53.0" fill="none" stroke="#1a1a1a" stroke-width="1.4"/>
<rect x="362.9" y="134.4" width="26.6" height="13.6" fill="none" stroke="#5c5c5c" stroke-width="0.85"/>
<text x="376.2" y="132.70000000000002" font-size="3.9" text-anchor="middle" fill="#333" font-weight="normal" >0.80%</text>
<rect x="398.5" y="123.8" width="51.0" height="53.0" fill="none" stroke="#1a1a1a" stroke-width="1.4"/>
<rect x="419.5" y="132.4" width="25.3" height="14.1" fill="none" stroke="#5c5c5c" stroke-width="0.85"/>
<text x="432.15" y="130.70000000000002" font-size="3.9" text-anchor="middle" fill="#333" font-weight="normal" >0.05%</text>
<rect x="453.0" y="123.8" width="51.0" height="53.0" fill="none" stroke="#1a1a1a" stroke-width="1.4"/>
<rect x="474.3" y="130.4" width="25.3" height="14.5" fill="none" stroke="#5c5c5c" stroke-width="0.85"/>
<text x="486.95" y="128.70000000000002" font-size="3.9" text-anchor="middle" fill="#333" font-weight="normal" >0.09%</text>
<clipPath id="cp1"><rect x="287.3" y="69.3" width="49.6" height="50.5"/></clipPath>
<g clip-path="url(#cp1)">
<g filter="url(#soft)">
<path d="M283.60,78.20 L300.37,78.20 C306.34,78.20 307.00,80.34 307.00,82.10 C307.00,83.85 306.34,86.00 300.37,86.00 L283.60,86.00 Z" fill="#b4aced" opacity="0.5"/>
<path d="M283.60,79.20 L300.87,79.20 C305.31,79.20 305.80,80.79 305.80,82.10 C305.80,83.41 305.31,85.00 300.87,85.00 L283.60,85.00 Z" fill="#201a86"/>
<path d="M283.60,80.70 L301.82,80.70 C303.96,80.70 304.20,81.47 304.20,82.10 C304.20,82.73 303.96,83.50 301.82,83.50 L283.60,83.50 Z" fill="#2c40b6"/>
<ellipse cx="297.54" cy="82.10" rx="6.20" ry="1.26" fill="#86c0ec" opacity="0.85"/>
<ellipse cx="299.86" cy="82.10" rx="4.80" ry="1.09" fill="#64bc46"/>
</g>
</g>
<clipPath id="cp2"><rect x="343.59999999999997" y="69.3" width="49.6" height="50.5"/></clipPath>
<g clip-path="url(#cp2)">
<ellipse cx="369" cy="86.5" rx="7.5" ry="3.2" fill="#a89ee6" opacity="0.3"/>
<ellipse cx="366" cy="87.5" rx="3.8" ry="1.4" fill="#4a38a8" opacity="0.45"/>
<rect x="366.53" y="84.06" width="0.7" height="0.7" fill="#4b3fb0" opacity="0.4"/>
<rect x="362.68" y="88.75" width="0.7" height="0.7" fill="#6a5acd" opacity="0.4"/>
<rect x="367.12" y="83.41" width="0.7" height="0.7" fill="#4b3fb0" opacity="0.4"/>
<rect x="365.01" y="83.60" width="0.7" height="0.7" fill="#8a7fe0" opacity="0.4"/>
<rect x="362.98" y="83.63" width="0.7" height="0.7" fill="#8a7fe0" opacity="0.4"/>
<rect x="362.83" y="86.96" width="0.7" height="0.7" fill="#6a5acd" opacity="0.4"/>
<rect x="370.83" y="87.08" width="0.7" height="0.7" fill="#6a5acd" opacity="0.4"/>
<rect x="370.08" y="85.78" width="0.7" height="0.7" fill="#6a5acd" opacity="0.4"/>
<rect x="362.65" y="89.01" width="0.7" height="0.7" fill="#8a7fe0" opacity="0.4"/>
<rect x="367.87" y="86.78" width="0.7" height="0.7" fill="#4b3fb0" opacity="0.4"/>
<rect x="366.32" y="88.71" width="0.7" height="0.7" fill="#6a5acd" opacity="0.4"/>
<rect x="363.44" y="87.00" width="0.7" height="0.7" fill="#6a5acd" opacity="0.4"/>
<rect x="367.21" y="86.83" width="0.7" height="0.7" fill="#6a5acd" opacity="0.4"/>
<rect x="369.90" y="87.33" width="0.7" height="0.7" fill="#8a7fe0" opacity="0.4"/>
<rect x="371.53" y="85.99" width="0.7" height="0.7" fill="#8a7fe0" opacity="0.4"/>
<rect x="368.52" y="89.46" width="0.7" height="0.7" fill="#8a7fe0" opacity="0.4"/>
<rect x="366.20" y="88.56" width="0.7" height="0.7" fill="#4b3fb0" opacity="0.4"/>
<rect x="372.92" y="83.57" width="0.7" height="0.7" fill="#8a7fe0" opacity="0.4"/>
<rect x="369.35" y="89.13" width="0.7" height="0.7" fill="#4b3fb0" opacity="0.4"/>
<rect x="368.28" y="87.26" width="0.7" height="0.7" fill="#6a5acd" opacity="0.4"/>
<rect x="363.65" y="85.93" width="0.7" height="0.7" fill="#8a7fe0" opacity="0.4"/>
<rect x="364.13" y="86.42" width="0.7" height="0.7" fill="#6a5acd" opacity="0.4"/>
<rect x="375.47" y="83.54" width="0.7" height="0.7" fill="#4b3fb0" opacity="0.4"/>
<rect x="370.02" y="89.13" width="0.7" height="0.7" fill="#8a7fe0" opacity="0.4"/>
<rect x="366.76" y="85.45" width="0.7" height="0.7" fill="#8a7fe0" opacity="0.4"/>
<g filter="url(#soft)">
<path d="M339.90,78.40 L354.75,78.40 C362.62,78.40 363.50,82.25 363.50,85.40 C363.50,88.55 362.62,92.40 354.75,92.40 L339.90,92.40 Z" fill="#b4aced" opacity="0.5"/>
<path d="M339.90,79.40 L354.80,79.40 C361.55,79.40 362.30,82.70 362.30,85.40 C362.30,88.10 361.55,91.40 354.80,91.40 L339.90,91.40 Z" fill="#201a86"/>
<path d="M339.90,80.90 L355.07,80.90 C360.14,80.90 360.70,83.38 360.70,85.40 C360.70,87.43 360.14,89.90 355.07,89.90 L339.90,89.90 Z" fill="#2c40b6"/>
<ellipse cx="353.30" cy="85.40" rx="4.50" ry="4.05" fill="#86c0ec" opacity="0.85"/>
<ellipse cx="354.94" cy="85.40" rx="3.10" ry="3.51" fill="#64bc46"/>
</g>
</g>
<clipPath id="cp3"><rect x="399.2" y="69.3" width="49.6" height="50.5"/></clipPath>
<g clip-path="url(#cp3)">
<rect x="425.28" y="84.11" width="0.7" height="0.7" fill="#6a5acd" opacity="0.35"/>
<rect x="431.11" y="84.27" width="0.7" height="0.7" fill="#4b3fb0" opacity="0.35"/>
<rect x="417.04" y="86.58" width="0.7" height="0.7" fill="#8a7fe0" opacity="0.35"/>
<rect x="426.35" y="88.94" width="0.7" height="0.7" fill="#8a7fe0" opacity="0.35"/>
<rect x="420.55" y="83.47" width="0.7" height="0.7" fill="#4b3fb0" opacity="0.35"/>
<rect x="421.55" y="88.47" width="0.7" height="0.7" fill="#8a7fe0" opacity="0.35"/>
<rect x="418.69" y="81.05" width="0.7" height="0.7" fill="#6a5acd" opacity="0.35"/>
<rect x="419.49" y="82.59" width="0.7" height="0.7" fill="#4b3fb0" opacity="0.35"/>
<rect x="419.96" y="83.52" width="0.7" height="0.7" fill="#8a7fe0" opacity="0.35"/>
<rect x="417.29" y="84.04" width="0.7" height="0.7" fill="#4b3fb0" opacity="0.35"/>
<rect x="420.45" y="81.23" width="0.7" height="0.7" fill="#8a7fe0" opacity="0.35"/>
<rect x="429.82" y="82.51" width="0.7" height="0.7" fill="#8a7fe0" opacity="0.35"/>
<g filter="url(#soft)">
<path d="M395.70,77.00 L413.30,77.00 C416.30,77.00 417.30,78.00 417.30,82.00 C417.30,86.50 415.80,87.00 413.30,87.00 L399.70,89.20 L395.70,89.20 Z" fill="#b4aced" opacity="0.55"/>
<path d="M395.70,78.00 L412.30,78.00 C415.30,78.00 416.30,79.00 416.30,82.00 C416.30,85.50 414.80,86.00 412.30,86.00 L399.70,88.20 L395.70,88.20 Z" fill="#211c88"/>
<path d="M395.70,79.50 L410.80,79.50 C413.80,79.50 414.80,80.50 414.80,82.00 C414.80,84.00 413.30,84.50 410.80,84.50 L399.70,86.70 L395.70,86.70 Z" fill="#2c40b6"/>
<ellipse cx="407.50" cy="81.88" rx="5.81" ry="2.04" fill="#92c2ef" opacity="0.85"/>
<ellipse cx="408.56" cy="81.06" rx="4.40" ry="1.43" fill="#66bd48"/>
</g>
</g>
<clipPath id="cp4"><rect x="453.7" y="69.3" width="49.6" height="50.5"/></clipPath>
<g clip-path="url(#cp4)">
<g filter="url(#soft)">
<path d="M450.00,78.05 L464.16,78.05 C473.38,78.05 474.40,80.50 474.40,82.50 C474.40,84.50 473.38,86.95 464.16,86.95 L450.00,86.95 Z" fill="#b4aced" opacity="0.5"/>
<path d="M450.00,79.05 L465.26,79.05 C472.41,79.05 473.20,80.95 473.20,82.50 C473.20,84.05 472.41,85.95 465.26,85.95 L450.00,85.95 Z" fill="#201a86"/>
<path d="M450.00,80.55 L467.12,80.55 C471.15,80.55 471.60,81.62 471.60,82.50 C471.60,83.38 471.15,84.45 467.12,84.45 L450.00,84.45 Z" fill="#2c40b6"/>
<ellipse cx="464.82" cy="82.50" rx="5.95" ry="1.76" fill="#86c0ec" opacity="0.85"/>
<ellipse cx="467.03" cy="82.50" rx="4.54" ry="1.52" fill="#64bc46"/>
</g>
</g>
<clipPath id="cp5"><rect x="287.3" y="124.5" width="49.6" height="51.6"/></clipPath>
<g clip-path="url(#cp5)">
<g filter="url(#soft)">
<path d="M283.60,132.75 L299.24,132.75 C306.22,132.75 307.00,135.42 307.00,137.60 C307.00,139.78 306.22,142.45 299.24,142.45 L283.60,142.45 Z" fill="#b4aced" opacity="0.5"/>
<path d="M283.60,133.75 L299.64,133.75 C305.18,133.75 305.80,135.87 305.80,137.60 C305.80,139.33 305.18,141.45 299.64,141.45 L283.60,141.45 Z" fill="#201a86"/>
<path d="M283.60,135.25 L300.44,135.25 C303.82,135.25 304.20,136.54 304.20,137.60 C304.20,138.66 303.82,139.95 300.44,139.95 L283.60,139.95 Z" fill="#2c40b6"/>
<ellipse cx="298.22" cy="137.60" rx="5.72" ry="2.12" fill="#86c0ec" opacity="0.85"/>
<ellipse cx="300.34" cy="137.60" rx="4.32" ry="1.83" fill="#64bc46"/>
</g>
</g>
<clipPath id="cp6"><rect x="343.59999999999997" y="124.5" width="49.6" height="51.6"/></clipPath>
<g clip-path="url(#cp6)">
<ellipse cx="352" cy="143.5" rx="9" ry="4.0" fill="#8a80d8" opacity="0.3"/>
<ellipse cx="351" cy="142" rx="7.5" ry="2.8" fill="#3a2f9a" opacity="0.45"/>
<rect x="360.76" y="145.49" width="0.8" height="0.8" fill="#5a50c0" opacity="0.5"/>
<rect x="360.24" y="140.43" width="0.8" height="0.8" fill="#3a34a8" opacity="0.5"/>
<rect x="345.72" y="145.26" width="0.8" height="0.8" fill="#3a34a8" opacity="0.5"/>
<rect x="351.73" y="144.60" width="0.8" height="0.8" fill="#5a50c0" opacity="0.5"/>
<rect x="348.07" y="140.38" width="0.8" height="0.8" fill="#2a2890" opacity="0.5"/>
<rect x="349.65" y="144.38" width="0.8" height="0.8" fill="#3a34a8" opacity="0.5"/>
<rect x="355.43" y="143.90" width="0.8" height="0.8" fill="#2a2890" opacity="0.5"/>
<rect x="354.79" y="146.03" width="0.8" height="0.8" fill="#5a50c0" opacity="0.5"/>
<rect x="359.19" y="146.41" width="0.8" height="0.8" fill="#2a2890" opacity="0.5"/>
<rect x="357.36" y="142.73" width="0.8" height="0.8" fill="#5a50c0" opacity="0.5"/>
<rect x="350.09" y="143.57" width="0.8" height="0.8" fill="#5a50c0" opacity="0.5"/>
<rect x="344.12" y="139.64" width="0.8" height="0.8" fill="#3a34a8" opacity="0.5"/>
<rect x="350.93" y="140.04" width="0.8" height="0.8" fill="#2a2890" opacity="0.5"/>
<rect x="343.95" y="139.00" width="0.8" height="0.8" fill="#3a34a8" opacity="0.5"/>
<rect x="352.66" y="148.02" width="0.8" height="0.8" fill="#2a2890" opacity="0.5"/>
<rect x="343.46" y="147.31" width="0.8" height="0.8" fill="#2a2890" opacity="0.5"/>
<rect x="349.77" y="145.03" width="0.8" height="0.8" fill="#5a50c0" opacity="0.5"/>
<rect x="353.84" y="143.50" width="0.8" height="0.8" fill="#3a34a8" opacity="0.5"/>
<rect x="358.28" y="148.43" width="0.8" height="0.8" fill="#5a50c0" opacity="0.5"/>
<rect x="351.65" y="141.96" width="0.8" height="0.8" fill="#3a34a8" opacity="0.5"/>
<rect x="344.84" y="142.26" width="0.8" height="0.8" fill="#5a50c0" opacity="0.5"/>
<rect x="351.62" y="145.57" width="0.8" height="0.8" fill="#2a2890" opacity="0.5"/>
<rect x="343.42" y="148.03" width="0.8" height="0.8" fill="#2a2890" opacity="0.5"/>
<rect x="349.51" y="145.56" width="0.8" height="0.8" fill="#3a34a8" opacity="0.5"/>
<rect x="356.65" y="141.83" width="0.8" height="0.8" fill="#2a2890" opacity="0.5"/>
<rect x="358.54" y="145.61" width="0.8" height="0.8" fill="#5a50c0" opacity="0.5"/>
<rect x="352.33" y="147.63" width="0.8" height="0.8" fill="#5a50c0" opacity="0.5"/>
<rect x="356.89" y="144.06" width="0.8" height="0.8" fill="#2a2890" opacity="0.5"/>
<rect x="348.93" y="141.12" width="0.8" height="0.8" fill="#3a34a8" opacity="0.5"/>
<rect x="357.51" y="146.77" width="0.8" height="0.8" fill="#2a2890" opacity="0.5"/>
<rect x="357.46" y="140.90" width="0.8" height="0.8" fill="#5a50c0" opacity="0.5"/>
<rect x="349.40" y="139.28" width="0.8" height="0.8" fill="#3a34a8" opacity="0.5"/>
<rect x="357.22" y="143.49" width="0.8" height="0.8" fill="#3a34a8" opacity="0.5"/>
<rect x="355.47" y="148.09" width="0.8" height="0.8" fill="#5a50c0" opacity="0.5"/>
<rect x="357.55" y="145.87" width="0.8" height="0.8" fill="#5a50c0" opacity="0.5"/>
<rect x="360.19" y="142.46" width="0.8" height="0.8" fill="#3a34a8" opacity="0.5"/>
<rect x="344.84" y="143.47" width="0.8" height="0.8" fill="#5a50c0" opacity="0.5"/>
<rect x="346.68" y="144.93" width="0.8" height="0.8" fill="#2a2890" opacity="0.5"/>
<rect x="358.13" y="143.55" width="0.8" height="0.8" fill="#2a2890" opacity="0.5"/>
<rect x="349.19" y="145.11" width="0.8" height="0.8" fill="#2a2890" opacity="0.5"/>
<rect x="345.16" y="142.69" width="0.8" height="0.8" fill="#2a2890" opacity="0.5"/>
<rect x="356.50" y="143.54" width="0.8" height="0.8" fill="#3a34a8" opacity="0.5"/>
<rect x="350.81" y="145.04" width="0.8" height="0.8" fill="#3a34a8" opacity="0.5"/>
<rect x="357.41" y="148.23" width="0.8" height="0.8" fill="#5a50c0" opacity="0.5"/>
<rect x="351.34" y="146.06" width="0.8" height="0.8" fill="#3a34a8" opacity="0.5"/>
<rect x="356.05" y="140.62" width="0.8" height="0.8" fill="#3a34a8" opacity="0.5"/>
<rect x="343.50" y="144.61" width="0.8" height="0.8" fill="#5a50c0" opacity="0.5"/>
<rect x="357.52" y="140.39" width="0.8" height="0.8" fill="#2a2890" opacity="0.5"/>
<rect x="360.65" y="145.24" width="0.8" height="0.8" fill="#5a50c0" opacity="0.5"/>
<rect x="345.81" y="144.21" width="0.8" height="0.8" fill="#3a34a8" opacity="0.5"/>
<rect x="343.26" y="148.22" width="0.8" height="0.8" fill="#2a2890" opacity="0.5"/>
<rect x="344.85" y="146.12" width="0.8" height="0.8" fill="#3a34a8" opacity="0.5"/>
<rect x="350.81" y="147.28" width="0.8" height="0.8" fill="#3a34a8" opacity="0.5"/>
<rect x="343.50" y="141.02" width="0.8" height="0.8" fill="#2a2890" opacity="0.5"/>
<rect x="347.33" y="144.57" width="0.8" height="0.8" fill="#5a50c0" opacity="0.5"/>
<rect x="352.80" y="146.92" width="0.8" height="0.8" fill="#3a34a8" opacity="0.5"/>
<rect x="359.38" y="142.36" width="0.8" height="0.8" fill="#5a50c0" opacity="0.5"/>
<rect x="354.92" y="146.74" width="0.8" height="0.8" fill="#2a2890" opacity="0.5"/>
<rect x="350.57" y="147.72" width="0.8" height="0.8" fill="#2a2890" opacity="0.5"/>
<rect x="345.35" y="140.44" width="0.8" height="0.8" fill="#2a2890" opacity="0.5"/>
<rect x="343.34" y="143.18" width="0.8" height="0.8" fill="#3a34a8" opacity="0.5"/>
<rect x="353.95" y="146.37" width="0.8" height="0.8" fill="#3a34a8" opacity="0.5"/>
<rect x="346.10" y="143.50" width="0.8" height="0.8" fill="#2a2890" opacity="0.5"/>
<rect x="345.17" y="139.59" width="0.8" height="0.8" fill="#2a2890" opacity="0.5"/>
<rect x="352.33" y="144.28" width="0.8" height="0.8" fill="#3a34a8" opacity="0.5"/>
<rect x="358.90" y="139.54" width="0.8" height="0.8" fill="#3a34a8" opacity="0.5"/>
<rect x="347.98" y="146.34" width="0.8" height="0.8" fill="#2a2890" opacity="0.5"/>
<rect x="351.14" y="139.26" width="0.8" height="0.8" fill="#3a34a8" opacity="0.5"/>
<rect x="350.98" y="144.82" width="0.8" height="0.8" fill="#2a2890" opacity="0.5"/>
<rect x="353.91" y="140.89" width="0.8" height="0.8" fill="#5a50c0" opacity="0.5"/>
<rect x="365.98" y="141.33" width="0.7" height="0.7" fill="#8a7fe0" opacity="0.35"/>
<rect x="366.59" y="138.48" width="0.7" height="0.7" fill="#4b3fb0" opacity="0.35"/>
<rect x="370.64" y="145.42" width="0.7" height="0.7" fill="#8a7fe0" opacity="0.35"/>
<rect x="371.15" y="144.93" width="0.7" height="0.7" fill="#6a5acd" opacity="0.35"/>
<rect x="370.24" y="137.37" width="0.7" height="0.7" fill="#6a5acd" opacity="0.35"/>
<rect x="365.32" y="139.16" width="0.7" height="0.7" fill="#4b3fb0" opacity="0.35"/>
<rect x="363.65" y="136.73" width="0.7" height="0.7" fill="#4b3fb0" opacity="0.35"/>
<rect x="364.33" y="137.22" width="0.7" height="0.7" fill="#6a5acd" opacity="0.35"/>
<rect x="371.33" y="142.43" width="0.7" height="0.7" fill="#8a7fe0" opacity="0.35"/>
<rect x="362.57" y="144.83" width="0.7" height="0.7" fill="#8a7fe0" opacity="0.35"/>
<rect x="363.42" y="145.53" width="0.7" height="0.7" fill="#8a7fe0" opacity="0.35"/>
<rect x="370.73" y="137.63" width="0.7" height="0.7" fill="#4b3fb0" opacity="0.35"/>
<rect x="370.16" y="137.61" width="0.7" height="0.7" fill="#8a7fe0" opacity="0.35"/>
<rect x="371.93" y="140.04" width="0.7" height="0.7" fill="#8a7fe0" opacity="0.35"/>
<g filter="url(#soft)">
<path d="M339.90,134.00 L356.52,134.00 C361.81,134.00 362.40,136.31 362.40,138.20 C362.40,140.09 361.81,142.40 356.52,142.40 L339.90,142.40 Z" fill="#b4aced" opacity="0.5"/>
<path d="M339.90,135.00 L356.72,135.00 C360.75,135.00 361.20,136.76 361.20,138.20 C361.20,139.64 360.75,141.40 356.72,141.40 L339.90,141.40 Z" fill="#201a86"/>
<path d="M339.90,136.50 L357.22,136.50 C359.36,136.50 359.60,137.44 359.60,138.20 C359.60,138.96 359.36,139.90 357.22,139.90 L339.90,139.90 Z" fill="#2c40b6"/>
<ellipse cx="353.24" cy="138.20" rx="6.43" ry="1.53" fill="#86c0ec" opacity="0.85"/>
<ellipse cx="355.65" cy="138.20" rx="5.03" ry="1.33" fill="#64bc46"/>
</g>
</g>
<clipPath id="cp7"><rect x="399.2" y="124.5" width="49.6" height="51.6"/></clipPath>
<g clip-path="url(#cp7)">
<rect x="401.94" y="141.75" width="0.7" height="0.7" fill="#4b3fb0" opacity="0.45"/>
<rect x="404.49" y="141.86" width="0.7" height="0.7" fill="#8a7fe0" opacity="0.45"/>
<rect x="405.61" y="140.10" width="0.7" height="0.7" fill="#8a7fe0" opacity="0.45"/>
<rect x="406.76" y="141.62" width="0.7" height="0.7" fill="#6a5acd" opacity="0.45"/>
<rect x="400.69" y="145.05" width="0.7" height="0.7" fill="#6a5acd" opacity="0.45"/>
<rect x="413.58" y="140.58" width="0.7" height="0.7" fill="#8a7fe0" opacity="0.45"/>
<rect x="403.08" y="144.98" width="0.7" height="0.7" fill="#6a5acd" opacity="0.45"/>
<rect x="403.06" y="140.71" width="0.7" height="0.7" fill="#8a7fe0" opacity="0.45"/>
<rect x="411.74" y="143.72" width="0.7" height="0.7" fill="#8a7fe0" opacity="0.45"/>
<rect x="405.09" y="142.95" width="0.7" height="0.7" fill="#4b3fb0" opacity="0.45"/>
<rect x="407.56" y="143.85" width="0.7" height="0.7" fill="#6a5acd" opacity="0.45"/>
<rect x="403.19" y="144.40" width="0.7" height="0.7" fill="#6a5acd" opacity="0.45"/>
<rect x="405.38" y="140.40" width="0.7" height="0.7" fill="#6a5acd" opacity="0.45"/>
<rect x="408.52" y="144.41" width="0.7" height="0.7" fill="#6a5acd" opacity="0.45"/>
<rect x="408.12" y="141.22" width="0.7" height="0.7" fill="#8a7fe0" opacity="0.45"/>
<rect x="411.94" y="142.50" width="0.7" height="0.7" fill="#8a7fe0" opacity="0.45"/>
<rect x="413.91" y="142.30" width="0.7" height="0.7" fill="#8a7fe0" opacity="0.45"/>
<rect x="408.33" y="140.24" width="0.7" height="0.7" fill="#4b3fb0" opacity="0.45"/>
<rect x="402.58" y="140.60" width="0.7" height="0.7" fill="#6a5acd" opacity="0.45"/>
<rect x="402.93" y="141.00" width="0.7" height="0.7" fill="#8a7fe0" opacity="0.45"/>
<rect x="408.43" y="142.92" width="0.7" height="0.7" fill="#6a5acd" opacity="0.45"/>
<rect x="403.35" y="142.75" width="0.7" height="0.7" fill="#6a5acd" opacity="0.45"/>
<rect x="403.06" y="144.42" width="0.7" height="0.7" fill="#8a7fe0" opacity="0.45"/>
<rect x="399.55" y="140.10" width="0.7" height="0.7" fill="#4b3fb0" opacity="0.45"/>
<rect x="407.27" y="141.04" width="0.7" height="0.7" fill="#8a7fe0" opacity="0.45"/>
<g filter="url(#soft)">
<path d="M395.70,133.25 L409.32,133.25 C416.59,133.25 417.40,135.86 417.40,138.00 C417.40,140.14 416.59,142.75 409.32,142.75 L395.70,142.75 Z" fill="#b4aced" opacity="0.5"/>
<path d="M395.70,134.25 L409.82,134.25 C415.56,134.25 416.20,136.31 416.20,138.00 C416.20,139.69 415.56,141.75 409.82,141.75 L395.70,141.75 Z" fill="#201a86"/>
<path d="M395.70,135.75 L410.77,135.75 C414.22,135.75 414.60,136.99 414.60,138.00 C414.60,139.01 414.22,140.25 410.77,140.25 L395.70,140.25 Z" fill="#2c40b6"/>
<ellipse cx="406.57" cy="138.00" rx="5.78" ry="2.02" fill="#86c0ec" opacity="0.85"/>
<ellipse cx="408.72" cy="138.00" rx="4.38" ry="1.76" fill="#64bc46"/>
</g>
</g>
<clipPath id="cp8"><rect x="453.7" y="124.5" width="49.6" height="51.6"/></clipPath>
<g clip-path="url(#cp8)">
<rect x="457.93" y="142.46" width="0.7" height="0.7" fill="#4b3fb0" opacity="0.45"/>
<rect x="467.10" y="142.38" width="0.7" height="0.7" fill="#8a7fe0" opacity="0.45"/>
<rect x="462.73" y="144.89" width="0.7" height="0.7" fill="#4b3fb0" opacity="0.45"/>
<rect x="458.92" y="141.18" width="0.7" height="0.7" fill="#6a5acd" opacity="0.45"/>
<rect x="459.48" y="144.58" width="0.7" height="0.7" fill="#4b3fb0" opacity="0.45"/>
<rect x="465.66" y="140.77" width="0.7" height="0.7" fill="#8a7fe0" opacity="0.45"/>
<rect x="469.71" y="144.60" width="0.7" height="0.7" fill="#6a5acd" opacity="0.45"/>
<rect x="455.13" y="144.07" width="0.7" height="0.7" fill="#8a7fe0" opacity="0.45"/>
<rect x="460.89" y="140.30" width="0.7" height="0.7" fill="#4b3fb0" opacity="0.45"/>
<rect x="467.46" y="144.79" width="0.7" height="0.7" fill="#4b3fb0" opacity="0.45"/>
<rect x="469.53" y="143.29" width="0.7" height="0.7" fill="#4b3fb0" opacity="0.45"/>
<rect x="458.69" y="142.53" width="0.7" height="0.7" fill="#6a5acd" opacity="0.45"/>
<rect x="458.30" y="140.02" width="0.7" height="0.7" fill="#8a7fe0" opacity="0.45"/>
<rect x="469.39" y="145.35" width="0.7" height="0.7" fill="#4b3fb0" opacity="0.45"/>
<rect x="459.18" y="140.19" width="0.7" height="0.7" fill="#8a7fe0" opacity="0.45"/>
<rect x="457.49" y="141.01" width="0.7" height="0.7" fill="#8a7fe0" opacity="0.45"/>
<rect x="460.11" y="142.61" width="0.7" height="0.7" fill="#4b3fb0" opacity="0.45"/>
<rect x="464.50" y="141.36" width="0.7" height="0.7" fill="#6a5acd" opacity="0.45"/>
<rect x="455.45" y="144.49" width="0.7" height="0.7" fill="#6a5acd" opacity="0.45"/>
<rect x="460.39" y="140.23" width="0.7" height="0.7" fill="#6a5acd" opacity="0.45"/>
<rect x="458.79" y="143.46" width="0.7" height="0.7" fill="#6a5acd" opacity="0.45"/>
<rect x="463.37" y="142.91" width="0.7" height="0.7" fill="#6a5acd" opacity="0.45"/>
<rect x="464.52" y="143.94" width="0.7" height="0.7" fill="#4b3fb0" opacity="0.45"/>
<rect x="460.23" y="141.79" width="0.7" height="0.7" fill="#8a7fe0" opacity="0.45"/>
<rect x="456.39" y="143.98" width="0.7" height="0.7" fill="#4b3fb0" opacity="0.45"/>
<g filter="url(#soft)">
<path d="M450.00,132.80 L470.20,132.80 C473.20,132.80 474.20,133.80 474.20,137.55 C474.20,141.80 472.70,142.30 470.20,142.30 L454.00,144.40 L450.00,144.40 Z" fill="#b4aced" opacity="0.55"/>
<path d="M450.00,133.80 L469.20,133.80 C472.20,133.80 473.20,134.80 473.20,137.55 C473.20,140.80 471.70,141.30 469.20,141.30 L454.00,143.40 L450.00,143.40 Z" fill="#211c88"/>
<path d="M450.00,135.30 L467.70,135.30 C470.70,135.30 471.70,136.30 471.70,137.55 C471.70,139.30 470.20,139.80 467.70,139.80 L454.00,141.90 L450.00,141.90 Z" fill="#2c40b6"/>
<ellipse cx="463.10" cy="137.45" rx="6.67" ry="1.92" fill="#92c2ef" opacity="0.85"/>
<ellipse cx="464.31" cy="136.68" rx="5.05" ry="1.34" fill="#66bd48"/>
</g>
</g>
<path d="M339.2,62.00h1.6v1.3h-1.6zM339.2,64.60h1.6v1.3h-1.6zM339.2,67.20h1.6v1.3h-1.6zM339.2,69.80h1.6v1.3h-1.6zM339.2,72.40h1.6v1.3h-1.6zM339.2,75.00h1.6v1.3h-1.6zM339.2,77.60h1.6v1.3h-1.6zM339.2,80.20h1.6v1.3h-1.6zM339.2,82.80h1.6v1.3h-1.6zM339.2,85.40h1.6v1.3h-1.6zM339.2,88.00h1.6v1.3h-1.6zM339.2,90.60h1.6v1.3h-1.6zM339.2,93.20h1.6v1.3h-1.6zM339.2,95.80h1.6v1.3h-1.6zM339.2,98.40h1.6v1.3h-1.6zM339.2,101.00h1.6v1.3h-1.6zM339.2,103.60h1.6v1.3h-1.6zM339.2,106.20h1.6v1.3h-1.6zM339.2,108.80h1.6v1.3h-1.6zM339.2,111.40h1.6v1.3h-1.6zM339.2,114.00h1.6v1.3h-1.6zM339.2,116.60h1.6v1.3h-1.6zM339.2,119.20h1.6v1.3h-1.6zM339.2,121.80h1.6v1.3h-1.6zM339.2,124.40h1.6v1.3h-1.6zM339.2,127.00h1.6v1.3h-1.6zM339.2,129.60h1.6v1.3h-1.6zM339.2,132.20h1.6v1.3h-1.6zM339.2,134.80h1.6v1.3h-1.6zM339.2,137.40h1.6v1.3h-1.6zM339.2,140.00h1.6v1.3h-1.6zM339.2,142.60h1.6v1.3h-1.6zM339.2,145.20h1.6v1.3h-1.6zM339.2,147.80h1.6v1.3h-1.6zM339.2,150.40h1.6v1.3h-1.6zM339.2,153.00h1.6v1.3h-1.6zM339.2,155.60h1.6v1.3h-1.6zM339.2,158.20h1.6v1.3h-1.6zM339.2,160.80h1.6v1.3h-1.6zM339.2,163.40h1.6v1.3h-1.6zM339.2,166.00h1.6v1.3h-1.6zM339.2,168.60h1.6v1.3h-1.6zM339.2,171.20h1.6v1.3h-1.6zM339.2,173.80h1.6v1.3h-1.6zM339.2,176.40h1.6v1.3h-1.6z" fill="#6a6a6a"/>
<text x="339.8" y="55.0" font-size="6.3" text-anchor="middle" fill="#222" font-weight="normal" textLength="19.4" lengthAdjust="spacingAndGlyphs" ><tspan font-style="italic">AdV</tspan> Dx</text>
<line x1="279.6" y1="73" x2="279.6" y2="165.5" stroke="#111" stroke-width="0.8" />
<polygon points="278.2,73.5 281.0,73.5 279.6,70.3" fill="#111"/>
<text x="274.3" y="72.6" font-size="7.0" text-anchor="middle" fill="#222" font-weight="normal" transform="rotate(-90 274.3 72.6)" textLength="16.4" lengthAdjust="spacingAndGlyphs" >CD8+</text>
<text x="274.3" y="123.0" font-size="7.0" text-anchor="middle" fill="#222" font-weight="normal" transform="rotate(-90 274.3 123.0)" textLength="16" lengthAdjust="spacingAndGlyphs" >CD4+</text>
<text x="282.1" y="172.4" font-size="8.0" text-anchor="middle" fill="#222" font-weight="normal" transform="rotate(-90 282.1 172.4)" textLength="10.2" lengthAdjust="spacingAndGlyphs" >CD3</text>
<text x="287.1" y="186.2" font-size="7.0" text-anchor="start" fill="#222" font-weight="normal" textLength="11.6" lengthAdjust="spacingAndGlyphs" >IFNγ</text>
<line x1="301.5" y1="184.3" x2="499.5" y2="184.3" stroke="#111" stroke-width="0.8" />
<polygon points="499,182.9 499,185.7 502.5,184.3" fill="#111"/>
<text x="508.1" y="120.7" font-size="5.7" text-anchor="middle" fill="#333" font-weight="normal" transform="rotate(90 508.1 120.7)" textLength="36" lengthAdjust="spacingAndGlyphs" ><tspan font-style="italic">AdV5</tspan> (Hexon)</text>
<text x="263.0" y="212.0" font-size="10.7" text-anchor="start" fill="#000" font-weight="bold" >E</text>
<text x="311.0" y="228.7" font-size="5.9" text-anchor="middle" fill="#2a2a2a" font-weight="normal" textLength="46" lengthAdjust="spacingAndGlyphs" >preLD (11/11/22)</text>
<text x="366.9" y="228.7" font-size="5.9" text-anchor="middle" fill="#2a2a2a" font-weight="normal" textLength="42" lengthAdjust="spacingAndGlyphs" >D+15 (12/1/22)</text>
<text x="421.0" y="228.7" font-size="5.9" text-anchor="middle" fill="#2a2a2a" font-weight="normal" textLength="42" lengthAdjust="spacingAndGlyphs" >M+1.9 (1/12/23)</text>
<text x="477.3" y="228.7" font-size="5.9" text-anchor="middle" fill="#2a2a2a" font-weight="normal" textLength="45.5" lengthAdjust="spacingAndGlyphs" >M+4.4 (3/29/23)</text>
<rect x="286.4" y="233.6" width="51.0" height="50.8" fill="none" stroke="#1a1a1a" stroke-width="1.4"/>
<rect x="307.3" y="240.5" width="27" height="13.2" fill="none" stroke="#5c5c5c" stroke-width="0.85"/>
<text x="320.8" y="238.8" font-size="3.9" text-anchor="middle" fill="#333" font-weight="normal" >0.48%</text>
<rect x="341.4" y="233.6" width="51.0" height="50.8" fill="none" stroke="#1a1a1a" stroke-width="1.4"/>
<rect x="361.4" y="242.2" width="26.3" height="14.4" fill="none" stroke="#5c5c5c" stroke-width="0.85"/>
<text x="374.54999999999995" y="240.5" font-size="3.9" text-anchor="middle" fill="#333" font-weight="normal" >0.17%</text>
<rect x="396.5" y="233.6" width="51.0" height="50.8" fill="none" stroke="#1a1a1a" stroke-width="1.4"/>
<rect x="416.3" y="239.3" width="27" height="15" fill="none" stroke="#5c5c5c" stroke-width="0.85"/>
<text x="429.8" y="237.60000000000002" font-size="3.9" text-anchor="middle" fill="#333" font-weight="normal" >0.00%</text>
<rect x="452.1" y="233.6" width="51.0" height="50.8" fill="none" stroke="#1a1a1a" stroke-width="1.4"/>
<rect x="472.5" y="239.3" width="26.3" height="15" fill="none" stroke="#5c5c5c" stroke-width="0.85"/>
<text x="485.65" y="237.60000000000002" font-size="3.9" text-anchor="middle" fill="#333" font-weight="normal" >0.03%</text>
<rect x="286.4" y="287.4" width="51.0" height="50.4" fill="none" stroke="#1a1a1a" stroke-width="1.4"/>
<rect x="307.2" y="293.7" width="26" height="13.3" fill="none" stroke="#5c5c5c" stroke-width="0.85"/>
<text x="320.2" y="292.0" font-size="3.9" text-anchor="middle" fill="#333" font-weight="normal" >0.13%</text>
<rect x="341.4" y="287.4" width="51.0" height="50.4" fill="none" stroke="#1a1a1a" stroke-width="1.4"/>
<rect x="362.2" y="296.5" width="25.4" height="14.2" fill="none" stroke="#5c5c5c" stroke-width="0.85"/>
<text x="374.9" y="294.8" font-size="3.9" text-anchor="middle" fill="#333" font-weight="normal" >0.04%</text>
<rect x="396.5" y="287.4" width="51.0" height="50.4" fill="none" stroke="#1a1a1a" stroke-width="1.4"/>
<rect x="417.5" y="293.8" width="25.8" height="15" fill="none" stroke="#5c5c5c" stroke-width="0.85"/>
<text x="430.4" y="292.1" font-size="3.9" text-anchor="middle" fill="#333" font-weight="normal" >0.01%</text>
<rect x="452.1" y="287.4" width="51.0" height="50.4" fill="none" stroke="#1a1a1a" stroke-width="1.4"/>
<rect x="473" y="293.3" width="25.8" height="14.3" fill="none" stroke="#5c5c5c" stroke-width="0.85"/>
<text x="485.9" y="291.6" font-size="3.9" text-anchor="middle" fill="#333" font-weight="normal" >0.00%</text>
<clipPath id="cp9"><rect x="287.09999999999997" y="234.29999999999998" width="49.6" height="49.4"/></clipPath>
<g clip-path="url(#cp9)">
<rect x="307.74" y="248.77" width="0.7" height="0.7" fill="#4b3fb0" opacity="0.4"/>
<rect x="316.70" y="247.39" width="0.7" height="0.7" fill="#4b3fb0" opacity="0.4"/>
<rect x="314.41" y="246.54" width="0.7" height="0.7" fill="#4b3fb0" opacity="0.4"/>
<rect x="315.03" y="246.98" width="0.7" height="0.7" fill="#6a5acd" opacity="0.4"/>
<rect x="315.92" y="247.09" width="0.7" height="0.7" fill="#4b3fb0" opacity="0.4"/>
<rect x="314.19" y="247.85" width="0.7" height="0.7" fill="#6a5acd" opacity="0.4"/>
<rect x="307.02" y="243.29" width="0.7" height="0.7" fill="#4b3fb0" opacity="0.4"/>
<rect x="310.33" y="243.73" width="0.7" height="0.7" fill="#8a7fe0" opacity="0.4"/>
<rect x="312.70" y="247.39" width="0.7" height="0.7" fill="#4b3fb0" opacity="0.4"/>
<rect x="312.38" y="244.71" width="0.7" height="0.7" fill="#8a7fe0" opacity="0.4"/>
<rect x="306.04" y="248.58" width="0.7" height="0.7" fill="#4b3fb0" opacity="0.4"/>
<rect x="317.19" y="249.29" width="0.7" height="0.7" fill="#6a5acd" opacity="0.4"/>
<rect x="313.91" y="243.46" width="0.7" height="0.7" fill="#4b3fb0" opacity="0.4"/>
<rect x="311.69" y="248.66" width="0.7" height="0.7" fill="#8a7fe0" opacity="0.4"/>
<rect x="308.82" y="248.30" width="0.7" height="0.7" fill="#6a5acd" opacity="0.4"/>
<rect x="314.88" y="249.83" width="0.7" height="0.7" fill="#8a7fe0" opacity="0.4"/>
<g filter="url(#soft)">
<path d="M283.40,243.50 L300.86,243.50 C306.48,243.50 307.10,245.65 307.10,247.40 C307.10,249.16 306.48,251.30 300.86,251.30 L283.40,251.30 Z" fill="#b4aced" opacity="0.5"/>
<path d="M283.40,244.50 L301.26,244.50 C305.44,244.50 305.90,246.09 305.90,247.40 C305.90,248.71 305.44,250.30 301.26,250.30 L283.40,250.30 Z" fill="#201a86"/>
<path d="M283.40,246.00 L302.06,246.00 C304.08,246.00 304.30,246.77 304.30,247.40 C304.30,248.03 304.08,248.80 302.06,248.80 L283.40,248.80 Z" fill="#2c40b6"/>
<ellipse cx="297.51" cy="247.40" rx="6.28" ry="1.26" fill="#86c0ec" opacity="0.85"/>
<ellipse cx="299.86" cy="247.40" rx="4.88" ry="1.09" fill="#64bc46"/>
</g>
</g>
<clipPath id="cp10"><rect x="342.09999999999997" y="234.29999999999998" width="49.6" height="49.4"/></clipPath>
<g clip-path="url(#cp10)">
<rect x="342.60" y="245.00" width="1.0" height="1.0" fill="#2a5cb0"/>
<rect x="343.50" y="245.00" width="1.0" height="1.0" fill="#3f5fc4"/>
<rect x="344.40" y="245.00" width="1.0" height="1.0" fill="#5a58c8"/>
<rect x="345.30" y="245.00" width="1.0" height="1.0" fill="#3a3ca8"/>
<rect x="348.90" y="245.00" width="1.0" height="1.0" fill="#3f5fc4"/>
<rect x="349.80" y="245.00" width="1.0" height="1.0" fill="#2f7f9f"/>
<rect x="353.40" y="245.00" width="1.0" height="1.0" fill="#3a3ca8"/>
<rect x="354.30" y="245.00" width="1.0" height="1.0" fill="#3f5fc4"/>
<rect x="355.20" y="245.00" width="1.0" height="1.0" fill="#3f5fc4"/>
<rect x="356.10" y="245.00" width="1.0" height="1.0" fill="#3f9a80"/>
<rect x="357.00" y="245.00" width="1.0" height="1.0" fill="#4a8fb8"/>
<rect x="358.80" y="245.00" width="1.0" height="1.0" fill="#3f9a80"/>
<rect x="343.50" y="245.90" width="1.0" height="1.0" fill="#4a8fb8"/>
<rect x="344.40" y="245.90" width="1.0" height="1.0" fill="#3f9a80"/>
<rect x="345.30" y="245.90" width="1.0" height="1.0" fill="#2e8aa0"/>
<rect x="347.10" y="245.90" width="1.0" height="1.0" fill="#3a3ca8"/>
<rect x="349.80" y="245.90" width="1.0" height="1.0" fill="#3f5fc4"/>
<rect x="350.70" y="245.90" width="1.0" height="1.0" fill="#2f7f9f"/>
<rect x="351.60" y="245.90" width="1.0" height="1.0" fill="#4a8fb8"/>
<rect x="354.30" y="245.90" width="1.0" height="1.0" fill="#3f9a80"/>
<rect x="355.20" y="245.90" width="1.0" height="1.0" fill="#3f9a80"/>
<rect x="356.10" y="245.90" width="1.0" height="1.0" fill="#2f7f9f"/>
<rect x="357.90" y="245.90" width="1.0" height="1.0" fill="#3f9a80"/>
<rect x="358.80" y="245.90" width="1.0" height="1.0" fill="#2f7f9f"/>
<rect x="342.60" y="246.80" width="1.0" height="1.0" fill="#2e8aa0"/>
<rect x="343.50" y="246.80" width="1.0" height="1.0" fill="#3a6cc0"/>
<rect x="344.40" y="246.80" width="1.0" height="1.0" fill="#2f45b5"/>
<rect x="345.30" y="246.80" width="1.0" height="1.0" fill="#3a6cc0"/>
<rect x="346.20" y="246.80" width="1.0" height="1.0" fill="#3a6cc0"/>
<rect x="347.10" y="246.80" width="1.0" height="1.0" fill="#2e8aa0"/>
<rect x="348.00" y="246.80" width="1.0" height="1.0" fill="#2a5cb0"/>
<rect x="348.90" y="246.80" width="1.0" height="1.0" fill="#3a3ca8"/>
<rect x="349.80" y="246.80" width="1.0" height="1.0" fill="#2f45b5"/>
<rect x="350.70" y="246.80" width="1.0" height="1.0" fill="#3f5fc4"/>
<rect x="351.60" y="246.80" width="1.0" height="1.0" fill="#45a86a"/>
<rect x="352.50" y="246.80" width="1.0" height="1.0" fill="#4fb070"/>
<rect x="353.40" y="246.80" width="1.0" height="1.0" fill="#60bb50"/>
<rect x="354.30" y="246.80" width="1.0" height="1.0" fill="#3f5fc4"/>
<rect x="355.20" y="246.80" width="1.0" height="1.0" fill="#2f45b5"/>
<rect x="356.10" y="246.80" width="1.0" height="1.0" fill="#3f5fc4"/>
<rect x="357.00" y="246.80" width="1.0" height="1.0" fill="#2a5cb0"/>
<rect x="357.90" y="246.80" width="1.0" height="1.0" fill="#2f45b5"/>
<rect x="358.80" y="246.80" width="1.0" height="1.0" fill="#3f5fc4"/>
<rect x="342.60" y="247.70" width="1.0" height="1.0" fill="#2f7f9f"/>
<rect x="344.40" y="247.70" width="1.0" height="1.0" fill="#3f5fc4"/>
<rect x="345.30" y="247.70" width="1.0" height="1.0" fill="#2e8aa0"/>
<rect x="346.20" y="247.70" width="1.0" height="1.0" fill="#4a8fb8"/>
<rect x="347.10" y="247.70" width="1.0" height="1.0" fill="#3a6cc0"/>
<rect x="348.00" y="247.70" width="1.0" height="1.0" fill="#3a3ca8"/>
<rect x="348.90" y="247.70" width="1.0" height="1.0" fill="#2e8aa0"/>
<rect x="349.80" y="247.70" width="1.0" height="1.0" fill="#2e8aa0"/>
<rect x="350.70" y="247.70" width="1.0" height="1.0" fill="#4a8fb8"/>
<rect x="351.60" y="247.70" width="1.0" height="1.0" fill="#45a86a"/>
<rect x="352.50" y="247.70" width="1.0" height="1.0" fill="#60bb50"/>
<rect x="353.40" y="247.70" width="1.0" height="1.0" fill="#55b85a"/>
<rect x="354.30" y="247.70" width="1.0" height="1.0" fill="#3f5fc4"/>
<rect x="355.20" y="247.70" width="1.0" height="1.0" fill="#4fb070"/>
<rect x="356.10" y="247.70" width="1.0" height="1.0" fill="#60bb50"/>
<rect x="357.00" y="247.70" width="1.0" height="1.0" fill="#2e8aa0"/>
<rect x="357.90" y="247.70" width="1.0" height="1.0" fill="#3a6cc0"/>
<rect x="343.50" y="248.60" width="1.0" height="1.0" fill="#3f5fc4"/>
<rect x="344.40" y="248.60" width="1.0" height="1.0" fill="#2e8aa0"/>
<rect x="345.30" y="248.60" width="1.0" height="1.0" fill="#3a3ca8"/>
<rect x="346.20" y="248.60" width="1.0" height="1.0" fill="#3f5fc4"/>
<rect x="347.10" y="248.60" width="1.0" height="1.0" fill="#3f9a80"/>
<rect x="348.00" y="248.60" width="1.0" height="1.0" fill="#60bb50"/>
<rect x="348.90" y="248.60" width="1.0" height="1.0" fill="#55b85a"/>
<rect x="349.80" y="248.60" width="1.0" height="1.0" fill="#4fb070"/>
<rect x="350.70" y="248.60" width="1.0" height="1.0" fill="#3f9a80"/>
<rect x="351.60" y="248.60" width="1.0" height="1.0" fill="#60bb50"/>
<rect x="352.50" y="248.60" width="1.0" height="1.0" fill="#3f9a80"/>
<rect x="353.40" y="248.60" width="1.0" height="1.0" fill="#4fb070"/>
<rect x="354.30" y="248.60" width="1.0" height="1.0" fill="#45a86a"/>
<rect x="355.20" y="248.60" width="1.0" height="1.0" fill="#4fb070"/>
<rect x="356.10" y="248.60" width="1.0" height="1.0" fill="#55b85a"/>
<rect x="357.00" y="248.60" width="1.0" height="1.0" fill="#4fb070"/>
<rect x="357.90" y="248.60" width="1.0" height="1.0" fill="#3a3ca8"/>
<rect x="358.80" y="248.60" width="1.0" height="1.0" fill="#2e8aa0"/>
<rect x="342.60" y="249.50" width="1.0" height="1.0" fill="#4a8fb8"/>
<rect x="344.40" y="249.50" width="1.0" height="1.0" fill="#3f5fc4"/>
<rect x="345.30" y="249.50" width="1.0" height="1.0" fill="#3a6cc0"/>
<rect x="346.20" y="249.50" width="1.0" height="1.0" fill="#2f45b5"/>
<rect x="347.10" y="249.50" width="1.0" height="1.0" fill="#3f9a80"/>
<rect x="348.00" y="249.50" width="1.0" height="1.0" fill="#3a9a88"/>
<rect x="348.90" y="249.50" width="1.0" height="1.0" fill="#4fb070"/>
<rect x="349.80" y="249.50" width="1.0" height="1.0" fill="#55b85a"/>
<rect x="350.70" y="249.50" width="1.0" height="1.0" fill="#55b85a"/>
<rect x="351.60" y="249.50" width="1.0" height="1.0" fill="#60bb50"/>
<rect x="352.50" y="249.50" width="1.0" height="1.0" fill="#3a9a88"/>
<rect x="353.40" y="249.50" width="1.0" height="1.0" fill="#2f45b5"/>
<rect x="354.30" y="249.50" width="1.0" height="1.0" fill="#60bb50"/>
<rect x="355.20" y="249.50" width="1.0" height="1.0" fill="#3f9a80"/>
<rect x="356.10" y="249.50" width="1.0" height="1.0" fill="#3f9a80"/>
<rect x="357.00" y="249.50" width="1.0" height="1.0" fill="#60bb50"/>
<rect x="357.90" y="249.50" width="1.0" height="1.0" fill="#4a8fb8"/>
<rect x="358.80" y="249.50" width="1.0" height="1.0" fill="#3f9a80"/>
<rect x="344.40" y="250.40" width="1.0" height="1.0" fill="#2f7f9f"/>
<rect x="345.30" y="250.40" width="1.0" height="1.0" fill="#2f7f9f"/>
<rect x="346.20" y="250.40" width="1.0" height="1.0" fill="#4a8fb8"/>
<rect x="347.10" y="250.40" width="1.0" height="1.0" fill="#2a5cb0"/>
<rect x="348.00" y="250.40" width="1.0" height="1.0" fill="#3f9a80"/>
<rect x="348.90" y="250.40" width="1.0" height="1.0" fill="#45a86a"/>
<rect x="349.80" y="250.40" width="1.0" height="1.0" fill="#55b85a"/>
<rect x="350.70" y="250.40" width="1.0" height="1.0" fill="#45a86a"/>
<rect x="351.60" y="250.40" width="1.0" height="1.0" fill="#3f5fc4"/>
<rect x="352.50" y="250.40" width="1.0" height="1.0" fill="#3f5fc4"/>
<rect x="353.40" y="250.40" width="1.0" height="1.0" fill="#60bb50"/>
<rect x="354.30" y="250.40" width="1.0" height="1.0" fill="#2a5cb0"/>
<rect x="355.20" y="250.40" width="1.0" height="1.0" fill="#3a9a88"/>
<rect x="356.10" y="250.40" width="1.0" height="1.0" fill="#4fb070"/>
<rect x="357.00" y="250.40" width="1.0" height="1.0" fill="#3a9a88"/>
<rect x="357.90" y="250.40" width="1.0" height="1.0" fill="#4fb070"/>
<rect x="342.60" y="251.30" width="1.0" height="1.0" fill="#3f9a80"/>
<rect x="344.40" y="251.30" width="1.0" height="1.0" fill="#3a6cc0"/>
<rect x="345.30" y="251.30" width="1.0" height="1.0" fill="#3a3ca8"/>
<rect x="346.20" y="251.30" width="1.0" height="1.0" fill="#3f9a80"/>
<rect x="347.10" y="251.30" width="1.0" height="1.0" fill="#4a8fb8"/>
<rect x="348.00" y="251.30" width="1.0" height="1.0" fill="#55b85a"/>
<rect x="348.90" y="251.30" width="1.0" height="1.0" fill="#60bb50"/>
<rect x="349.80" y="251.30" width="1.0" height="1.0" fill="#3f5fc4"/>
<rect x="350.70" y="251.30" width="1.0" height="1.0" fill="#55b85a"/>
<rect x="351.60" y="251.30" width="1.0" height="1.0" fill="#60bb50"/>
<rect x="352.50" y="251.30" width="1.0" height="1.0" fill="#55b85a"/>
<rect x="353.40" y="251.30" width="1.0" height="1.0" fill="#3a6cc0"/>
<rect x="354.30" y="251.30" width="1.0" height="1.0" fill="#45a86a"/>
<rect x="355.20" y="251.30" width="1.0" height="1.0" fill="#2e8aa0"/>
<rect x="356.10" y="251.30" width="1.0" height="1.0" fill="#60bb50"/>
<rect x="357.00" y="251.30" width="1.0" height="1.0" fill="#3a9a88"/>
<rect x="357.90" y="251.30" width="1.0" height="1.0" fill="#4a8fb8"/>
<rect x="342.60" y="252.20" width="1.0" height="1.0" fill="#3a3ca8"/>
<rect x="343.50" y="252.20" width="1.0" height="1.0" fill="#3a3ca8"/>
<rect x="344.40" y="252.20" width="1.0" height="1.0" fill="#3a3ca8"/>
<rect x="345.30" y="252.20" width="1.0" height="1.0" fill="#3f9a80"/>
<rect x="346.20" y="252.20" width="1.0" height="1.0" fill="#3a3ca8"/>
<rect x="347.10" y="252.20" width="1.0" height="1.0" fill="#3f5fc4"/>
<rect x="348.00" y="252.20" width="1.0" height="1.0" fill="#3f5fc4"/>
<rect x="348.90" y="252.20" width="1.0" height="1.0" fill="#4fb070"/>
<rect x="349.80" y="252.20" width="1.0" height="1.0" fill="#55b85a"/>
<rect x="350.70" y="252.20" width="1.0" height="1.0" fill="#3f9a80"/>
<rect x="351.60" y="252.20" width="1.0" height="1.0" fill="#45a86a"/>
<rect x="352.50" y="252.20" width="1.0" height="1.0" fill="#2f7f9f"/>
<rect x="353.40" y="252.20" width="1.0" height="1.0" fill="#2f45b5"/>
<rect x="354.30" y="252.20" width="1.0" height="1.0" fill="#4fb070"/>
<rect x="355.20" y="252.20" width="1.0" height="1.0" fill="#45a86a"/>
<rect x="356.10" y="252.20" width="1.0" height="1.0" fill="#2f7f9f"/>
<rect x="357.00" y="252.20" width="1.0" height="1.0" fill="#3a9a88"/>
<rect x="357.90" y="252.20" width="1.0" height="1.0" fill="#2a5cb0"/>
<rect x="358.80" y="252.20" width="1.0" height="1.0" fill="#2f7f9f"/>
<rect x="342.60" y="253.10" width="1.0" height="1.0" fill="#2f7f9f"/>
<rect x="343.50" y="253.10" width="1.0" height="1.0" fill="#4a8fb8"/>
<rect x="344.40" y="253.10" width="1.0" height="1.0" fill="#3f9a80"/>
<rect x="345.30" y="253.10" width="1.0" height="1.0" fill="#2f45b5"/>
<rect x="346.20" y="253.10" width="1.0" height="1.0" fill="#3f5fc4"/>
<rect x="347.10" y="253.10" width="1.0" height="1.0" fill="#2e8aa0"/>
<rect x="348.00" y="253.10" width="1.0" height="1.0" fill="#3a6cc0"/>
<rect x="348.90" y="253.10" width="1.0" height="1.0" fill="#3a6cc0"/>
<rect x="349.80" y="253.10" width="1.0" height="1.0" fill="#3f9a80"/>
<rect x="350.70" y="253.10" width="1.0" height="1.0" fill="#45a86a"/>
<rect x="351.60" y="253.10" width="1.0" height="1.0" fill="#45a86a"/>
<rect x="352.50" y="253.10" width="1.0" height="1.0" fill="#45a86a"/>
<rect x="353.40" y="253.10" width="1.0" height="1.0" fill="#55b85a"/>
<rect x="354.30" y="253.10" width="1.0" height="1.0" fill="#3a9a88"/>
<rect x="355.20" y="253.10" width="1.0" height="1.0" fill="#2e8aa0"/>
<rect x="356.10" y="253.10" width="1.0" height="1.0" fill="#2a5cb0"/>
<rect x="357.00" y="253.10" width="1.0" height="1.0" fill="#2f45b5"/>
<rect x="357.90" y="253.10" width="1.0" height="1.0" fill="#3f9a80"/>
<rect x="342.60" y="254.00" width="1.0" height="1.0" fill="#3f9a80"/>
<rect x="344.40" y="254.00" width="1.0" height="1.0" fill="#3f9a80"/>
<rect x="346.20" y="254.00" width="1.0" height="1.0" fill="#2e8aa0"/>
<rect x="349.80" y="254.00" width="1.0" height="1.0" fill="#3f5fc4"/>
<rect x="352.50" y="254.00" width="1.0" height="1.0" fill="#3a6cc0"/>
<rect x="354.30" y="254.00" width="1.0" height="1.0" fill="#5a58c8"/>
<rect x="356.10" y="254.00" width="1.0" height="1.0" fill="#3a6cc0"/>
<rect x="357.00" y="254.00" width="1.0" height="1.0" fill="#3f5fc4"/>
<rect x="358.80" y="254.00" width="1.0" height="1.0" fill="#2a5cb0"/>
<rect x="344.40" y="254.90" width="1.0" height="1.0" fill="#3f9a80"/>
<rect x="345.30" y="254.90" width="1.0" height="1.0" fill="#2e8aa0"/>
<rect x="346.20" y="254.90" width="1.0" height="1.0" fill="#2e8aa0"/>
<rect x="347.10" y="254.90" width="1.0" height="1.0" fill="#2f7f9f"/>
<rect x="348.00" y="254.90" width="1.0" height="1.0" fill="#2f7f9f"/>
<rect x="349.80" y="254.90" width="1.0" height="1.0" fill="#3f5fc4"/>
<rect x="350.70" y="254.90" width="1.0" height="1.0" fill="#2f7f9f"/>
<rect x="351.60" y="254.90" width="1.0" height="1.0" fill="#3a6cc0"/>
<rect x="352.50" y="254.90" width="1.0" height="1.0" fill="#3f9a80"/>
<rect x="353.40" y="254.90" width="1.0" height="1.0" fill="#5a58c8"/>
<rect x="356.10" y="254.90" width="1.0" height="1.0" fill="#3a3ca8"/>
<rect x="357.00" y="254.90" width="1.0" height="1.0" fill="#2f45b5"/>
<rect x="357.90" y="254.90" width="1.0" height="1.0" fill="#4a8fb8"/>
<rect x="358.80" y="254.90" width="1.0" height="1.0" fill="#2e8aa0"/>
</g>
<clipPath id="cp11"><rect x="397.2" y="234.29999999999998" width="49.6" height="49.4"/></clipPath>
<g clip-path="url(#cp11)">
<g filter="url(#soft)">
<path d="M393.50,240.50 L412.00,240.50 C415.00,240.50 416.00,241.50 416.00,245.50 C416.00,250.00 414.50,250.50 412.00,250.50 L397.50,253.10 L393.50,253.10 Z" fill="#b4aced" opacity="0.55"/>
<path d="M393.50,241.50 L411.00,241.50 C414.00,241.50 415.00,242.50 415.00,245.50 C415.00,249.00 413.50,249.50 411.00,249.50 L397.50,252.10 L393.50,252.10 Z" fill="#211c88"/>
<path d="M393.50,243.00 L409.50,243.00 C412.50,243.00 413.50,244.00 413.50,245.50 C413.50,247.50 412.00,248.00 409.50,248.00 L397.50,250.60 L393.50,250.60 Z" fill="#2c40b6"/>
<ellipse cx="405.75" cy="245.53" rx="6.11" ry="2.12" fill="#92c2ef" opacity="0.85"/>
<ellipse cx="406.86" cy="244.68" rx="4.62" ry="1.48" fill="#66bd48"/>
</g>
</g>
<clipPath id="cp12"><rect x="452.8" y="234.29999999999998" width="49.6" height="49.4"/></clipPath>
<g clip-path="url(#cp12)">
<g filter="url(#soft)">
<path d="M449.10,240.80 L467.40,240.80 C470.40,240.80 471.40,241.80 471.40,245.55 C471.40,249.80 469.90,250.30 467.40,250.30 L453.10,253.40 L449.10,253.40 Z" fill="#b4aced" opacity="0.55"/>
<path d="M449.10,241.80 L466.40,241.80 C469.40,241.80 470.40,242.80 470.40,245.55 C470.40,248.80 468.90,249.30 466.40,249.30 L453.10,252.40 L449.10,252.40 Z" fill="#211c88"/>
<path d="M449.10,243.30 L464.90,243.30 C467.90,243.30 468.90,244.30 468.90,245.55 C468.90,247.30 467.40,247.80 464.90,247.80 L453.10,250.90 L449.10,250.90 Z" fill="#2c40b6"/>
<ellipse cx="461.25" cy="245.83" rx="6.04" ry="2.12" fill="#92c2ef" opacity="0.85"/>
<ellipse cx="462.35" cy="244.98" rx="4.58" ry="1.48" fill="#66bd48"/>
</g>
</g>
<clipPath id="cp13"><rect x="287.09999999999997" y="288.09999999999997" width="49.6" height="49.0"/></clipPath>
<g clip-path="url(#cp13)">
<rect x="316.60" y="304.89" width="0.7" height="0.7" fill="#8a7fe0" opacity="0.4"/>
<rect x="313.50" y="297.88" width="0.7" height="0.7" fill="#8a7fe0" opacity="0.4"/>
<rect x="311.98" y="302.39" width="0.7" height="0.7" fill="#8a7fe0" opacity="0.4"/>
<rect x="308.08" y="297.20" width="0.7" height="0.7" fill="#8a7fe0" opacity="0.4"/>
<rect x="313.44" y="302.07" width="0.7" height="0.7" fill="#4b3fb0" opacity="0.4"/>
<rect x="312.46" y="302.96" width="0.7" height="0.7" fill="#6a5acd" opacity="0.4"/>
<rect x="315.36" y="298.65" width="0.7" height="0.7" fill="#8a7fe0" opacity="0.4"/>
<rect x="312.80" y="299.36" width="0.7" height="0.7" fill="#4b3fb0" opacity="0.4"/>
<rect x="309.12" y="299.95" width="0.7" height="0.7" fill="#6a5acd" opacity="0.4"/>
<rect x="308.94" y="297.38" width="0.7" height="0.7" fill="#4b3fb0" opacity="0.4"/>
<rect x="308.26" y="296.58" width="0.7" height="0.7" fill="#8a7fe0" opacity="0.4"/>
<rect x="317.91" y="300.57" width="0.7" height="0.7" fill="#6a5acd" opacity="0.4"/>
<rect x="313.80" y="296.90" width="0.7" height="0.7" fill="#8a7fe0" opacity="0.4"/>
<rect x="317.89" y="296.92" width="0.7" height="0.7" fill="#8a7fe0" opacity="0.4"/>
<g filter="url(#soft)">
<path d="M283.40,295.20 L298.68,295.20 C306.17,295.20 307.00,298.06 307.00,300.40 C307.00,302.74 306.17,305.60 298.68,305.60 L283.40,305.60 Z" fill="#b4aced" opacity="0.5"/>
<path d="M283.40,296.20 L299.08,296.20 C305.13,296.20 305.80,298.51 305.80,300.40 C305.80,302.29 305.13,304.60 299.08,304.60 L283.40,304.60 Z" fill="#201a86"/>
<path d="M283.40,297.70 L299.88,297.70 C303.77,297.70 304.20,299.19 304.20,300.40 C304.20,301.61 303.77,303.10 299.88,303.10 L283.40,303.10 Z" fill="#2c40b6"/>
<ellipse cx="297.75" cy="300.40" rx="5.77" ry="2.43" fill="#86c0ec" opacity="0.85"/>
<ellipse cx="299.89" cy="300.40" rx="4.37" ry="2.11" fill="#64bc46"/>
</g>
</g>
<clipPath id="cp14"><rect x="342.09999999999997" y="288.09999999999997" width="49.6" height="49.0"/></clipPath>
<g clip-path="url(#cp14)">
<g filter="url(#soft)">
<path d="M338.40,296.70 L351.15,296.70 C359.65,296.70 360.60,300.55 360.60,303.70 C360.60,306.85 359.65,310.70 351.15,310.70 L338.40,310.70 Z" fill="#b4aced" opacity="0.5"/>
<path d="M338.40,297.70 L351.30,297.70 C358.59,297.70 359.40,301.00 359.40,303.70 C359.40,306.40 358.59,309.70 351.30,309.70 L338.40,309.70 Z" fill="#201a86"/>
<path d="M338.40,299.20 L351.72,299.20 C357.19,299.20 357.80,301.68 357.80,303.70 C357.80,305.72 357.19,308.20 351.72,308.20 L338.40,308.20 Z" fill="#2c40b6"/>
<ellipse cx="350.42" cy="303.70" rx="6.53" ry="4.05" fill="#86c0ec" opacity="0.85"/>
<ellipse cx="352.87" cy="303.70" rx="5.13" ry="3.51" fill="#64bc46"/>
</g>
</g>
<clipPath id="cp15"><rect x="397.2" y="288.09999999999997" width="49.6" height="49.0"/></clipPath>
<g clip-path="url(#cp15)">
<g filter="url(#soft)">
<path d="M393.50,294.80 L407.60,294.80 C415.70,294.80 416.60,298.10 416.60,300.80 C416.60,303.50 415.70,306.80 407.60,306.80 L393.50,306.80 Z" fill="#b4aced" opacity="0.5"/>
<path d="M393.50,295.80 L407.90,295.80 C414.65,295.80 415.40,298.55 415.40,300.80 C415.40,303.05 414.65,305.80 407.90,305.80 L393.50,305.80 Z" fill="#201a86"/>
<path d="M393.50,297.30 L408.55,297.30 C413.28,297.30 413.80,299.23 413.80,300.80 C413.80,302.38 413.28,304.30 408.55,304.30 L393.50,304.30 Z" fill="#2c40b6"/>
<ellipse cx="405.95" cy="300.80" rx="6.12" ry="3.15" fill="#86c0ec" opacity="0.85"/>
<ellipse cx="408.24" cy="300.80" rx="4.72" ry="2.73" fill="#64bc46"/>
</g>
</g>
<clipPath id="cp16"><rect x="452.8" y="288.09999999999997" width="49.6" height="49.0"/></clipPath>
<g clip-path="url(#cp16)">
<ellipse cx="461" cy="302.5" rx="8" ry="3.5" fill="#7a6cd0" opacity="0.35"/>
<rect x="467.13" y="300.85" width="0.7" height="0.7" fill="#8a7fe0" opacity="0.5"/>
<rect x="467.63" y="299.32" width="0.7" height="0.7" fill="#8a7fe0" opacity="0.5"/>
<rect x="456.73" y="299.40" width="0.7" height="0.7" fill="#4b3fb0" opacity="0.5"/>
<rect x="468.57" y="303.67" width="0.7" height="0.7" fill="#6a5acd" opacity="0.5"/>
<rect x="458.96" y="305.93" width="0.7" height="0.7" fill="#8a7fe0" opacity="0.5"/>
<rect x="462.65" y="305.20" width="0.7" height="0.7" fill="#4b3fb0" opacity="0.5"/>
<rect x="468.13" y="299.85" width="0.7" height="0.7" fill="#4b3fb0" opacity="0.5"/>
<rect x="464.36" y="301.80" width="0.7" height="0.7" fill="#6a5acd" opacity="0.5"/>
<rect x="458.90" y="300.13" width="0.7" height="0.7" fill="#6a5acd" opacity="0.5"/>
<rect x="469.00" y="299.31" width="0.7" height="0.7" fill="#4b3fb0" opacity="0.5"/>
<rect x="463.43" y="300.63" width="0.7" height="0.7" fill="#6a5acd" opacity="0.5"/>
<rect x="466.10" y="302.27" width="0.7" height="0.7" fill="#8a7fe0" opacity="0.5"/>
<rect x="455.96" y="301.50" width="0.7" height="0.7" fill="#6a5acd" opacity="0.5"/>
<rect x="453.50" y="302.97" width="0.7" height="0.7" fill="#8a7fe0" opacity="0.5"/>
<rect x="454.01" y="299.81" width="0.7" height="0.7" fill="#8a7fe0" opacity="0.5"/>
<rect x="463.62" y="300.24" width="0.7" height="0.7" fill="#4b3fb0" opacity="0.5"/>
<rect x="454.46" y="300.31" width="0.7" height="0.7" fill="#4b3fb0" opacity="0.5"/>
<rect x="457.34" y="306.91" width="0.7" height="0.7" fill="#4b3fb0" opacity="0.5"/>
<rect x="457.92" y="306.63" width="0.7" height="0.7" fill="#8a7fe0" opacity="0.5"/>
<rect x="464.93" y="306.07" width="0.7" height="0.7" fill="#8a7fe0" opacity="0.5"/>
<rect x="459.66" y="305.91" width="0.7" height="0.7" fill="#8a7fe0" opacity="0.5"/>
<rect x="463.31" y="302.13" width="0.7" height="0.7" fill="#8a7fe0" opacity="0.5"/>
<rect x="456.26" y="299.05" width="0.7" height="0.7" fill="#6a5acd" opacity="0.5"/>
<rect x="459.78" y="305.56" width="0.7" height="0.7" fill="#8a7fe0" opacity="0.5"/>
<rect x="462.24" y="301.92" width="0.7" height="0.7" fill="#6a5acd" opacity="0.5"/>
<rect x="455.08" y="299.41" width="0.7" height="0.7" fill="#6a5acd" opacity="0.5"/>
<rect x="463.25" y="306.28" width="0.7" height="0.7" fill="#6a5acd" opacity="0.5"/>
<rect x="462.17" y="306.42" width="0.7" height="0.7" fill="#4b3fb0" opacity="0.5"/>
<rect x="461.07" y="300.17" width="0.7" height="0.7" fill="#8a7fe0" opacity="0.5"/>
<rect x="455.59" y="300.37" width="0.7" height="0.7" fill="#6a5acd" opacity="0.5"/>
<rect x="454.74" y="302.92" width="0.7" height="0.7" fill="#6a5acd" opacity="0.5"/>
<rect x="457.83" y="305.70" width="0.7" height="0.7" fill="#6a5acd" opacity="0.5"/>
<rect x="468.61" y="302.86" width="0.7" height="0.7" fill="#6a5acd" opacity="0.5"/>
<rect x="462.72" y="304.09" width="0.7" height="0.7" fill="#6a5acd" opacity="0.5"/>
<rect x="467.47" y="303.96" width="0.7" height="0.7" fill="#6a5acd" opacity="0.5"/>
<rect x="463.25" y="305.85" width="0.7" height="0.7" fill="#4b3fb0" opacity="0.5"/>
<rect x="459.47" y="305.77" width="0.7" height="0.7" fill="#8a7fe0" opacity="0.5"/>
<rect x="455.93" y="300.75" width="0.7" height="0.7" fill="#8a7fe0" opacity="0.5"/>
<rect x="468.02" y="300.25" width="0.7" height="0.7" fill="#8a7fe0" opacity="0.5"/>
<rect x="454.97" y="300.98" width="0.7" height="0.7" fill="#4b3fb0" opacity="0.5"/>
<g filter="url(#soft)">
<path d="M449.10,294.10 L463.78,294.10 C470.10,294.10 470.80,296.25 470.80,298.00 C470.80,299.75 470.10,301.90 463.78,301.90 L449.10,301.90 Z" fill="#b4aced" opacity="0.5"/>
<path d="M449.10,295.10 L464.38,295.10 C469.08,295.10 469.60,296.69 469.60,298.00 C469.60,299.31 469.08,300.90 464.38,300.90 L449.10,300.90 Z" fill="#201a86"/>
<path d="M449.10,296.60 L465.48,296.60 C467.75,296.60 468.00,297.37 468.00,298.00 C468.00,298.63 467.75,299.40 465.48,299.40 L449.10,299.40 Z" fill="#2c40b6"/>
<ellipse cx="461.46" cy="298.00" rx="5.34" ry="1.26" fill="#86c0ec" opacity="0.85"/>
<ellipse cx="463.44" cy="298.00" rx="3.94" ry="1.09" fill="#64bc46"/>
</g>
</g>
<path d="M449.2,224.00h1.6v1.3h-1.6zM449.2,226.60h1.6v1.3h-1.6zM449.2,229.20h1.6v1.3h-1.6zM449.2,231.80h1.6v1.3h-1.6zM449.2,234.40h1.6v1.3h-1.6zM449.2,237.00h1.6v1.3h-1.6zM449.2,239.60h1.6v1.3h-1.6zM449.2,242.20h1.6v1.3h-1.6zM449.2,244.80h1.6v1.3h-1.6zM449.2,247.40h1.6v1.3h-1.6zM449.2,250.00h1.6v1.3h-1.6zM449.2,252.60h1.6v1.3h-1.6zM449.2,255.20h1.6v1.3h-1.6zM449.2,257.80h1.6v1.3h-1.6zM449.2,260.40h1.6v1.3h-1.6zM449.2,263.00h1.6v1.3h-1.6zM449.2,265.60h1.6v1.3h-1.6zM449.2,268.20h1.6v1.3h-1.6zM449.2,270.80h1.6v1.3h-1.6zM449.2,273.40h1.6v1.3h-1.6zM449.2,276.00h1.6v1.3h-1.6zM449.2,278.60h1.6v1.3h-1.6zM449.2,281.20h1.6v1.3h-1.6zM449.2,283.80h1.6v1.3h-1.6zM449.2,286.40h1.6v1.3h-1.6zM449.2,289.00h1.6v1.3h-1.6zM449.2,291.60h1.6v1.3h-1.6zM449.2,294.20h1.6v1.3h-1.6zM449.2,296.80h1.6v1.3h-1.6zM449.2,299.40h1.6v1.3h-1.6zM449.2,302.00h1.6v1.3h-1.6zM449.2,304.60h1.6v1.3h-1.6zM449.2,307.20h1.6v1.3h-1.6zM449.2,309.80h1.6v1.3h-1.6zM449.2,312.40h1.6v1.3h-1.6zM449.2,315.00h1.6v1.3h-1.6zM449.2,317.60h1.6v1.3h-1.6zM449.2,320.20h1.6v1.3h-1.6zM449.2,322.80h1.6v1.3h-1.6zM449.2,325.40h1.6v1.3h-1.6zM449.2,328.00h1.6v1.3h-1.6zM449.2,330.60h1.6v1.3h-1.6zM449.2,333.20h1.6v1.3h-1.6zM449.2,335.80h1.6v1.3h-1.6zM449.2,338.40h1.6v1.3h-1.6z" fill="#6a6a6a"/>
<text x="449.6" y="220.0" font-size="6.3" text-anchor="middle" fill="#222" font-weight="normal" textLength="19.2" lengthAdjust="spacingAndGlyphs" ><tspan font-style="italic">AdV</tspan> Dx</text>
<line x1="279.7" y1="238.5" x2="279.7" y2="325.7" stroke="#111" stroke-width="0.8" />
<polygon points="278.3,239 281.1,239 279.7,235.8" fill="#111"/>
<text x="274.3" y="236.0" font-size="7.0" text-anchor="middle" fill="#222" font-weight="normal" transform="rotate(-90 274.3 236.0)" textLength="16" lengthAdjust="spacingAndGlyphs" >CD8+</text>
<text x="274.3" y="289.0" font-size="7.0" text-anchor="middle" fill="#222" font-weight="normal" transform="rotate(-90 274.3 289.0)" textLength="16" lengthAdjust="spacingAndGlyphs" >CD4+</text>
<text x="282.1" y="333.0" font-size="8.0" text-anchor="middle" fill="#222" font-weight="normal" transform="rotate(-90 282.1 333.0)" textLength="10.2" lengthAdjust="spacingAndGlyphs" >CD3</text>
<text x="286.7" y="347.8" font-size="7.0" text-anchor="start" fill="#222" font-weight="normal" textLength="11.5" lengthAdjust="spacingAndGlyphs" >IFNγ</text>
<line x1="300.6" y1="345.3" x2="500.5" y2="345.3" stroke="#111" stroke-width="0.8" />
<polygon points="500,343.9 500,346.7 503.8,345.3" fill="#111"/>
<text x="508.1" y="285.5" font-size="5.7" text-anchor="middle" fill="#333" font-weight="normal" transform="rotate(90 508.1 285.5)" textLength="43" lengthAdjust="spacingAndGlyphs" >Influenza A (NP)</text>
<rect x="0.5" y="0.5" width="519" height="387" fill="none" stroke="#686868" stroke-width="1"/>
</svg>
</body></html>
